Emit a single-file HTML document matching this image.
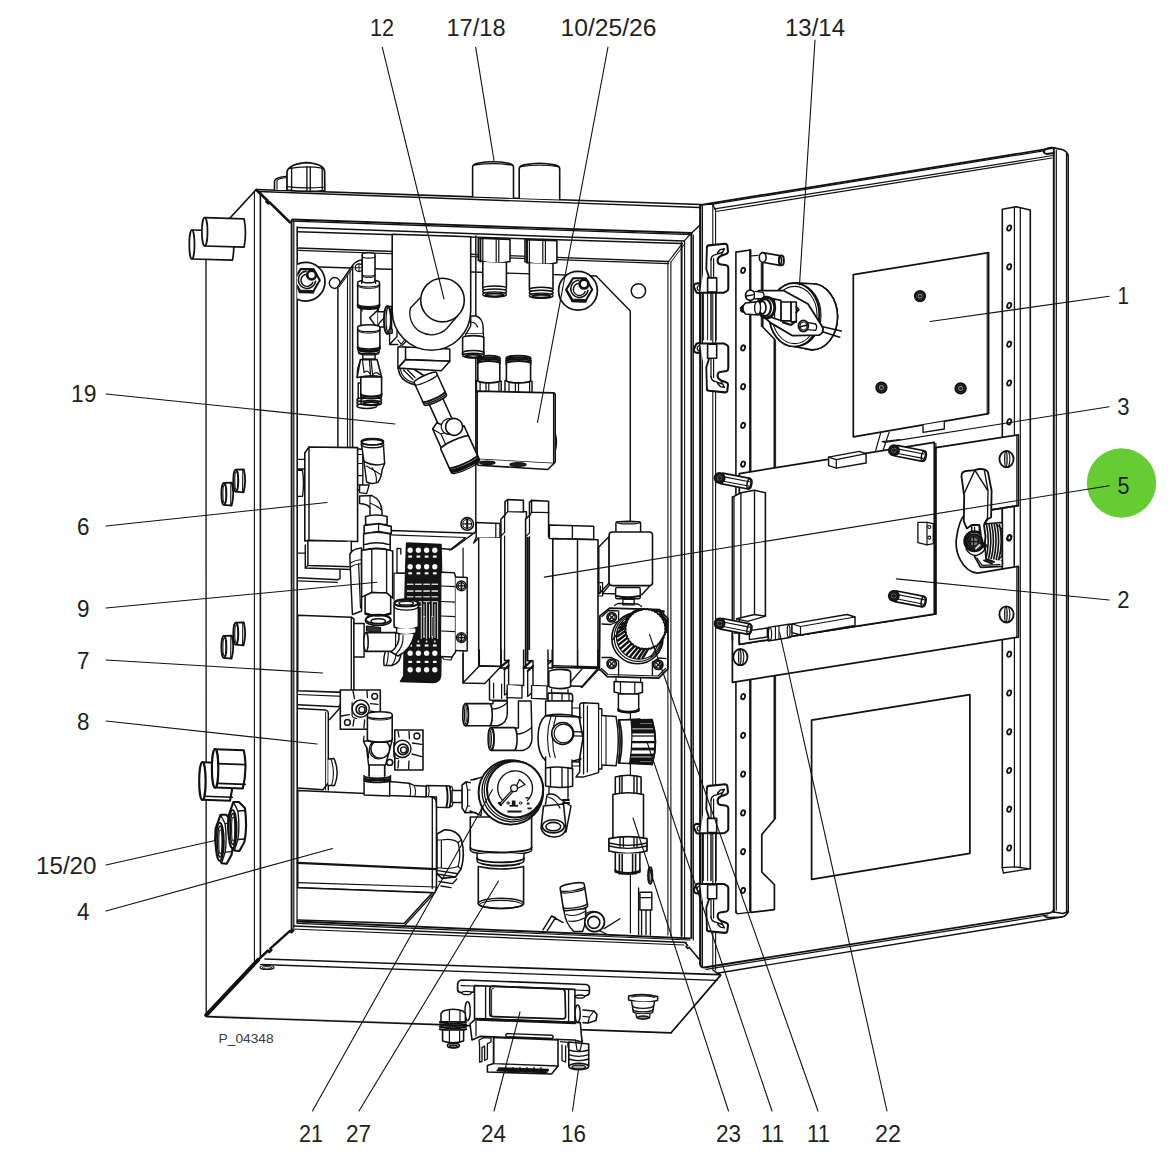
<!DOCTYPE html>
<html><head><meta charset="utf-8"><title>P_04348</title>
<style>
html,body{margin:0;padding:0;background:#fff;}
body{width:1174px;height:1174px;overflow:hidden;font-family:"Liberation Sans",sans-serif;}
svg{display:block;position:absolute;left:0;top:0;}
svg text{font-family:"Liberation Sans",sans-serif;}
</style></head><body>
<svg width="1174" height="1174" viewBox="0 0 1174 1174" fill="none" stroke="#111" stroke-width="1.55" stroke-linecap="round" stroke-linejoin="round">
<path d="M256.3 189.5L206 244L206.2 1015.2L671.1 1032.8L720.5 975.4L701 204.5Z" stroke-width="0.12" fill="#fff"/>
<path d="M256.3 189.5L206 244" stroke-width="1.71"/>
<path d="M206 244L206.2 1015.2" stroke-width="1.28"/>
<path d="M254.4 191L254.4 961" stroke-width="1.1"/>
<path d="M260.4 192L260.4 958" stroke-width="1.59"/>
<path d="M206.2 1015.2L258.1 959.9" stroke-width="3.9"/>
<path d="M258.1 959.9L268 950.5l1.2 1.6l2.2-2L270.2 948.6L290 930.8l1.5 1.5l1.8-1.8" stroke-width="2.44"/>
<path d="M257 190.5L267.5 200.5l-1 1.2l1.8 1.6l1-1.2L290 222.4" stroke-width="2.68"/>
<path d="M256.3 189.5L701 204.5" stroke-width="1.71"/>
<path d="M259 191.6L700 207.6" stroke-width="1.46"/>
<path d="M292.4 219.5L691.6 233" stroke-width="1.83"/>
<path d="M292.6 221.2L690.5 234.6" stroke-width="1.34"/>
<path d="M297.5 227.5L684 241.1" stroke-width="1.46"/>
<path d="M297.5 231.8L682.2 243.6" stroke-width="1.46"/>
<path d="M298.4 248L668.6 261.5" stroke-width="1.46"/>
<path d="M298.4 250.4L668.6 263.6" stroke-width="1.1"/>
<path d="M291.6 220L291.6 930" stroke-width="1.83"/>
<path d="M293.8 221L293.8 928" stroke-width="1.22"/>
<path d="M297.2 227L297.2 923" stroke-width="1.59"/>
<path d="M691.4 233L691.4 938" stroke-width="1.95"/>
<path d="M693.3 235L693.3 940" stroke-width="1.22"/>
<path d="M681.6 243L681.6 936" stroke-width="1.95"/>
<path d="M684.6 241L684.6 938" stroke-width="1.1"/>
<path d="M667.9 262L667.9 935" stroke-width="1.1"/>
<path d="M670.9 262L670.9 936" stroke-width="1.1"/>
<path d="M691.6 233L700 225" stroke-width="1.46"/>
<path d="M684 241.1L691.6 233" stroke-width="1.22"/>
<path d="M668.6 261.5L682.2 243.6" stroke-width="1.22"/>
<path d="M671 262L684.6 244" stroke-width="0.98"/>
<path d="M297.3 921.5L690 938.3" stroke-width="1.83"/>
<path d="M297.3 923.3L690 940" stroke-width="1.22"/>
<path d="M294 926L686 942.5" stroke-width="1.46"/>
<path d="M292 929L684 945" stroke-width="1.22"/>
<path d="M685.6 943l2 2.5l-1.5 1.2l1.5 1.8l1.5-1.2L699 959" stroke-width="1.59"/>
<path d="M265 959L718.8 974.6" stroke-width="1.59"/>
<path d="M260.7 964.5L717.1 980.3" stroke-width="1.34"/>
<path d="M207 1016.6L671.1 1032.8" stroke-width="1.71"/>
<path d="M720.5 975.4L671.1 1032.8" stroke-width="1.71"/>
<path d="M717 970.5L720.5 975.4" stroke-width="1.71"/>
<ellipse cx="267" cy="967.5" rx="7" ry="2" stroke-width="1.22"/>
<ellipse cx="267" cy="967.8" rx="5" ry="1.2" stroke-width="0.98"/>
<path d="M191.9 230L232.5 231.2Q235.2 245.1 232.5 260.2L191.9 259" stroke-width="1.71" fill="#fff"/>
<ellipse cx="191.9" cy="244.5" rx="2.6" ry="14.5" stroke-width="1.71" fill="#fff"/>
<path d="M204.7 217.6L244.1 218.8Q246.8 232.4 244.1 247.2L204.7 246" stroke-width="1.71" fill="#fff"/>
<ellipse cx="204.7" cy="231.8" rx="2.8" ry="14.2" stroke-width="1.71" fill="#fff"/>
<path d="M223.9 482.90000000000003L231.9 482.6Q234.70000000000002 494.1 231.60000000000002 505.6L223.9 504.8" stroke-width="1.83" fill="#fff"/>
<ellipse cx="223.9" cy="493.9" rx="2.5" ry="11" stroke-width="1.83" fill="#fff"/>
<ellipse cx="224.5" cy="493.9" rx="1.6" ry="9" stroke-width="1.1"/>
<path d="M230.9 482.8L230.7 505.4" stroke-width="1.1"/>
<path d="M235.79999999999998 469.7L243.79999999999998 469.4Q246.6 480.9 243.5 492.4L235.79999999999998 491.59999999999997" stroke-width="1.83" fill="#fff"/>
<ellipse cx="235.8" cy="480.7" rx="2.5" ry="11" stroke-width="1.83" fill="#fff"/>
<ellipse cx="236.4" cy="480.7" rx="1.6" ry="9" stroke-width="1.1"/>
<path d="M242.8 469.6L242.6 492.2" stroke-width="1.1"/>
<path d="M223.9 635.9L231.9 635.6Q234.70000000000002 647.1 231.60000000000002 658.6L223.9 657.8000000000001" stroke-width="1.83" fill="#fff"/>
<ellipse cx="223.9" cy="646.9" rx="2.5" ry="11" stroke-width="1.83" fill="#fff"/>
<ellipse cx="224.5" cy="646.9" rx="1.6" ry="9" stroke-width="1.1"/>
<path d="M230.9 635.8L230.7 658.4" stroke-width="1.1"/>
<path d="M235.79999999999998 622.6999999999999L243.79999999999998 622.4Q246.6 633.9 243.5 645.4L235.79999999999998 644.6" stroke-width="1.83" fill="#fff"/>
<ellipse cx="235.8" cy="633.7" rx="2.5" ry="11" stroke-width="1.83" fill="#fff"/>
<ellipse cx="236.4" cy="633.7" rx="1.6" ry="9" stroke-width="1.1"/>
<path d="M242.8 622.6L242.6 645.2" stroke-width="1.1"/>
<path d="M202.39999999999998 762.3L231 763.3Q234.8 781.5 230 800.7L202.39999999999998 799.7" stroke-width="2.13" fill="#fff"/>
<ellipse cx="202.4" cy="781" rx="3.2" ry="18.9" stroke-width="2.13" fill="#fff"/>
<path d="M205 796.2L232.4 797.2" stroke-width="1.59"/>
<path d="M204.6 764.3Q206.79999999999998 781.5 204.6 798.2" stroke-width="1.22"/>
<path d="M215.1 749.2L243.8 750.2Q247.60000000000002 768.85 242.8 788.5L215.1 787.5" stroke-width="2.13" fill="#fff"/>
<ellipse cx="215.1" cy="768.4" rx="3.2" ry="19.3" stroke-width="2.13" fill="#fff"/>
<path d="M217.7 763.6L245.2 764.6" stroke-width="1.59"/>
<path d="M217.7 783.4L245.2 784.4" stroke-width="1.59"/>
<path d="M217.3 751.2Q219.5 768.85 217.3 786.0" stroke-width="1.22"/>
<path d="M220.6 814.7L226.1 814.7L232.1 820.7Q234.7 839.7 231.6 854.7L226.6 863.7L221.6 863.2Q213.6 850.7 215.6 828.7Z" stroke-width="2.13" fill="#fff"/>
<ellipse cx="219.7" cy="841.7" rx="4" ry="19" stroke-width="2.13" fill="#fff"/>
<ellipse cx="220.1" cy="841.7" rx="2.6" ry="15.5" stroke-width="1.34"/>
<ellipse cx="220.4" cy="841.7" rx="1.6" ry="12" stroke-width="1.1"/>
<path d="M220.6 814.7L225.1 823.7Q227.1 839.7 225.1 852.2L221.6 863.2" stroke-width="1.34"/>
<path d="M225.1 823.7L232.7 823.2" stroke-width="1.34"/>
<path d="M225.1 852.2L232.1 851.7" stroke-width="1.34"/>
<path d="M233.4 802L238.9 802L244.9 808Q247.5 827 244.4 842L239.4 851L234.4 850.5Q226.4 838 228.4 816Z" stroke-width="2.13" fill="#fff"/>
<ellipse cx="232.5" cy="829" rx="4" ry="19" stroke-width="2.13" fill="#fff"/>
<ellipse cx="232.9" cy="829" rx="2.6" ry="15.5" stroke-width="1.34"/>
<ellipse cx="233.2" cy="829" rx="1.6" ry="12" stroke-width="1.1"/>
<path d="M233.4 802L237.9 811Q239.9 827 237.9 839.5L234.4 850.5" stroke-width="1.34"/>
<path d="M237.9 811L245.5 810.5" stroke-width="1.34"/>
<path d="M237.9 839.5L244.9 839" stroke-width="1.34"/>
<path d="M274.5 190L274.5 181Q275.5 177 287.5 176.2L287.5 190" stroke-width="1.59" fill="#fff"/>
<path d="M277 189.5L277 180.5Q279 178 287 177.8" stroke-width="1.1"/>
<path d="M287 190L287 172Q288 164.5 306 162.6Q323 163.5 324.6 171L324.8 190.5Q306 192.4 287 190Z" stroke-width="1.71" fill="#fff"/>
<path d="M288.6 168.6Q306 165.4 323.6 168.4" stroke-width="1.22"/>
<path d="M291.6 167.2L291.6 190.6" stroke-width="1.34"/>
<path d="M306.9 167.2L306.9 190.6" stroke-width="1.34"/>
<path d="M310.3 167.2L310.3 190.6" stroke-width="1.34"/>
<path d="M322.2 167.2L322.2 190.6" stroke-width="1.34"/>
<path d="M287 186.6Q306 189 324.8 187" stroke-width="1.1"/>
<path d="M628.6 996Q643 993 657.6 996.4L657.6 1000.6Q643 1004 628.6 1000Z" stroke-width="1.59" fill="#fff"/>
<path d="M631.4 997Q643 994.8 655 997.4" stroke-width="1.1"/>
<path d="M631.6 1001.6L633.4 1012.4Q643 1015.6 652.6 1012.6L654.4 1002" stroke-width="1.46" fill="#fff"/>
<path d="M633 1006A10 2.4 0 0 0 653 1006" stroke-width="1.34"/>
<path d="M633 1009.4A10 2.4 0 0 0 653 1009.4" stroke-width="1.34"/>
<path d="M636 1014L636.6 1017.6Q643 1020 649.6 1017.8L650 1014.2" stroke-width="1.34" fill="#fff"/>
<ellipse cx="643" cy="1017.6" rx="5.4" ry="1.5" stroke-width="1.46" fill="#888"/>
<path d="M462 980L586 984.5Q589.4 985 589.4 988L589.4 992.6Q589 995 586 995.6L575 996L474 992L461 992.6Q457.6 992 457.6 989.4L457.6 984Q458 980.4 462 980Z" stroke-width="1.71" fill="#fff"/>
<path d="M461 985.6L474 986L474 992M575 990L589 990.6" stroke-width="1.22"/>
<ellipse cx="466.6" cy="993" rx="4.6" ry="1.6" stroke-width="1.34" fill="#fff"/>
<ellipse cx="580" cy="996.6" rx="4.6" ry="1.6" stroke-width="1.34" fill="#fff"/>
<ellipse cx="467.6" cy="1011" rx="2.6" ry="9.6" stroke-width="1.46" fill="#fff"/>
<ellipse cx="577.6" cy="1013.6" rx="2.6" ry="8.6" stroke-width="1.46" fill="#fff"/>
<path d="M583 1010L594 1011L597 1014.6L596 1020.6L588 1023L583 1022.6" stroke-width="1.59" fill="#fff"/>
<path d="M588 1023L589.4 1017L594 1011M589.4 1017L583 1016.4" stroke-width="1.22"/>
<path d="M474.5 985.6L574.9 989.4L574.9 1022.4L474.5 1018.6Z" stroke-width="1.59" fill="#fff"/>
<path d="M485.6 986L485.6 1019" stroke-width="1.34"/>
<path d="M568.6 989.2L568.6 1022" stroke-width="1.34"/>
<path d="M493 986.2L562 988.9Q565 989.1 565 992.2L565.6 1016Q565.6 1019 562.6 1018.9L493 1016.6Q489.8 1016.5 489.8 1013.4L489.8 989.2Q489.8 986.1 493 986.2Z" stroke-width="1.71"/>
<path d="M491.6 1015.6L491.6 990Q491.6 987.9 494 988" stroke-width="0.98"/>
<path d="M470 1024L476 1018.6L580.3 1022.6L582 1042L574 1040L480 1036.4L472 1040Z" stroke-width="1.59" fill="#fff"/>
<path d="M476 1018.6L476 1036" stroke-width="1.22"/>
<path d="M477.6 1019.6L574.9 1023.2" stroke-width="2.2"/>
<path d="M507 1033.6L552 1035.2Q554.4 1036.6 552 1038.4L507 1036.8Q504.6 1035.2 507 1033.6Z" stroke-width="1.46" fill="#fff"/>
<path d="M479 1040L484 1037.6L491 1038L491 1042L487.4 1043.6L487.4 1059L484.6 1060.5L484.6 1046L482 1047.6L482 1061.5L479.6 1062L479.6 1046Z" stroke-width="1.34" fill="#fff"/>
<path d="M560.4 1041.6L568 1042.4L568 1047M562 1045L562 1060.6L565.6 1062L565.6 1046" stroke-width="1.34"/>
<path d="M493.6 1037.5L558 1040L558 1066L551.6 1074L487.4 1072L487.4 1065.6L493.6 1063.6Z" stroke-width="1.59" fill="#fff"/>
<path d="M493.6 1063.6L558 1066M493.6 1037.5L493.6 1063.6" stroke-width="1.34"/>
<path d="M499 1068.4L548 1070M497.6 1070.4L546.6 1072" stroke-width="2.32"/>
<path d="M506 1067.4L505 1072.6" stroke-width="1.22"/>
<path d="M513 1067.4L512 1072.6" stroke-width="1.22"/>
<path d="M520 1067.4L519 1072.6" stroke-width="1.22"/>
<path d="M527 1067.4L526 1072.6" stroke-width="1.22"/>
<path d="M534 1067.4L533 1072.6" stroke-width="1.22"/>
<path d="M541 1067.4L540 1072.6" stroke-width="1.22"/>
<path d="M443 1011Q453 1007.6 463 1011L465.4 1013.6L465.4 1022L441 1021.6L441 1013.6Z" stroke-width="1.59" fill="#fff"/>
<path d="M449.4 1009.6L449.4 1021.6" stroke-width="1.22"/>
<path d="M460 1010L460 1021.8" stroke-width="1.22"/>
<path d="M440 1022Q453 1025 466 1022" stroke-width="2.2"/>
<path d="M440 1024.4Q453 1027.4 466 1024.4" stroke-width="2.2"/>
<path d="M440 1026.8Q453 1029.8 466 1026.8" stroke-width="2.2"/>
<path d="M440 1029.2Q453 1032.2 466 1029.2" stroke-width="2.2"/>
<path d="M442.6 1030L442.6 1041Q453 1044.6 463.6 1041L463.6 1030Z" stroke-width="1.59" fill="#fff"/>
<path d="M449.4 1031L449.4 1042.6" stroke-width="1.22"/>
<path d="M459.6 1031L459.6 1042.6" stroke-width="1.22"/>
<ellipse cx="453.4" cy="1045.6" rx="6" ry="2.4" stroke-width="1.59" fill="#fff"/>
<ellipse cx="453.4" cy="1046.2" rx="3.8" ry="1.3" stroke-width="1.46" fill="#999"/>
<path d="M568.8 1042L568.8 1066Q578.6 1070 588.7 1066L588.7 1044Z" stroke-width="1.59" fill="#fff"/>
<path d="M568.8 1050Q578.6 1053.4 588.7 1050" stroke-width="1.34"/>
<path d="M568.8 1054.6Q578.6 1058.0 588.7 1054.6" stroke-width="1.34"/>
<path d="M568.8 1059Q578.6 1062.4 588.7 1059" stroke-width="1.34"/>
<ellipse cx="578.8" cy="1066.6" rx="9.8" ry="3.2" stroke-width="1.59" fill="#fff"/>
<ellipse cx="578.8" cy="1067" rx="6.8" ry="1.9" stroke-width="1.34" fill="#aaa"/>
<path d="M575.4 1040L577 1050L580 1050.6L582.6 1040" stroke-width="1.22"/>
<path d="M298 266.3L596.2 276L630.3 311L630.3 523" stroke-width="1.46"/>
<clipPath id="cpL"><rect x="297.2" y="200" width="400" height="800"/></clipPath>
<g clip-path="url(#cpL)">
<ellipse cx="305.6" cy="281.7" rx="19.4" ry="19.4" stroke-width="1.71" fill="#fff"/>
<path d="M293.7 280.8L300.6 269.1L313.4 269.1L319.8 280.3L312.9 292.1L299.9 291.8Z" stroke-width="2.07" fill="#fff"/>
<path d="M294.8 281.3L300.2 290.1L312.2 290.5" stroke-width="1.22"/>
<path d="M299.9 291.8L312.9 292.1" stroke-width="2.93"/>
<path d="M306.1 271.1A8.7 8.7 0 1 0 315.6 281.2" stroke-width="1.59"/>
<path d="M305.8 274.3A6.1 6.1 0 1 0 312.8 282.3" stroke-width="1.34"/>
<ellipse cx="311.6" cy="275" rx="4.4" ry="4.4" stroke-width="2.68" fill="#fff"/>
</g>
<ellipse cx="334.7" cy="283" rx="5.4" ry="5.4" stroke-width="1.46"/>
<ellipse cx="578" cy="290.8" rx="19.4" ry="19.4" stroke-width="1.71" fill="#fff"/>
<path d="M566.1 289.9L573 278.2L585.8 278.2L592.2 289.4L585.3 301.2L572.3 300.9Z" stroke-width="2.07" fill="#fff"/>
<path d="M567.2 290.4L572.6 299.2L584.6 299.6" stroke-width="1.22"/>
<path d="M572.3 300.9L585.3 301.2" stroke-width="2.93"/>
<path d="M578.5 280.2A8.7 8.7 0 1 0 588 290.3" stroke-width="1.59"/>
<path d="M578.2 283.4A6.1 6.1 0 1 0 585.2 291.4" stroke-width="1.34"/>
<ellipse cx="584" cy="284.1" rx="4.4" ry="4.4" stroke-width="2.68" fill="#fff"/>
<ellipse cx="638.4" cy="290.9" rx="7.2" ry="7.2" stroke-width="1.46"/>
<path d="M337.9 447.3L337.9 286.5L352.6 265.5Q356 260.5 362 260L362 270" stroke-width="1.46" fill="#fff"/>
<path d="M339.2 287L353.5 267" stroke-width="0.98"/>
<path d="M347.5 275L347.5 447.4" stroke-width="1.1"/>
<path d="M350 271L350 447.4" stroke-width="1.1"/>
<path d="M352.6 266L352.6 447.5" stroke-width="1.46"/>
<ellipse cx="359" cy="267.7" rx="3.8" ry="3.8" stroke-width="1.34" fill="#fff"/>
<path d="M355.4 267.7L362.6 267.7" stroke-width="0.98"/>
<path d="M359 264L359 271.4" stroke-width="0.98"/>
<path d="M475.8 236L475.8 531.5" stroke-width="1.46"/>
<path d="M478.3 238.2L510 239.39999999999998L510 261.5Q494.15 265.0 478.3 260.5Z" stroke-width="1.59" fill="#fff"/>
<path d="M480.4 238.7L480.4 261.5" stroke-width="1.95"/>
<path d="M482.8 238.7L482.8 262.8" stroke-width="1.22"/>
<path d="M496.2 238.7L496.2 262.8" stroke-width="1.22"/>
<path d="M498.8 238.7L498.8 262.8" stroke-width="1.22"/>
<path d="M482.8 262.0L482.8 287.3A11.799999999999983 3 0 0 0 506.4 287.3L506.4 263.0" stroke-width="1.59" fill="#fff"/>
<ellipse cx="494.6" cy="288.5" rx="12" ry="2.6" stroke-width="1.46" fill="#fff"/>
<ellipse cx="494.6" cy="291.5" rx="12" ry="2.6" stroke-width="1.46" fill="#fff"/>
<ellipse cx="494.6" cy="294.5" rx="12" ry="2.6" stroke-width="1.22" fill="#fff"/>
<ellipse cx="494.6" cy="294.9" rx="9.2" ry="1.5" stroke-width="1.95"/>
<path d="M525 239.6L556.9 240.79999999999998L556.9 262.8Q540.95 266.3 525 261.8Z" stroke-width="1.59" fill="#fff"/>
<path d="M527 240.1L527 262.8" stroke-width="1.95"/>
<path d="M529.4 240.1L529.4 264.1" stroke-width="1.22"/>
<path d="M542.8 240.1L542.8 264.1" stroke-width="1.22"/>
<path d="M545.4 240.1L545.4 264.1" stroke-width="1.22"/>
<path d="M529.4 263.3L529.4 288.6A11.800000000000011 3 0 0 0 553 288.6L553 264.3" stroke-width="1.59" fill="#fff"/>
<ellipse cx="541.2" cy="289.8" rx="12" ry="2.6" stroke-width="1.46" fill="#fff"/>
<ellipse cx="541.2" cy="292.8" rx="12" ry="2.6" stroke-width="1.46" fill="#fff"/>
<ellipse cx="541.2" cy="295.8" rx="12" ry="2.6" stroke-width="1.22" fill="#fff"/>
<ellipse cx="541.2" cy="296.2" rx="9.2" ry="1.5" stroke-width="1.95"/>
<path d="M472.6 196.5L472.6 167.2Q472.6 164.2 477.6 163.2Q493.05 160.3 508.5 163.2Q513.5 164.2 513.5 167.2L513.5 198" stroke-width="1.59" fill="#fff"/>
<path d="M474.1 165.0Q493.05 162.4 512.0 165.0" stroke-width="1.34"/>
<path d="M519.2 198.2L519.2 168.9Q519.2 165.9 524.2 164.9Q539.45 161.6 554.7 164.9Q559.7 165.9 559.7 168.9L559.7 199.6" stroke-width="1.59" fill="#fff"/>
<path d="M520.7 166.70000000000002Q539.45 163.7 558.2 166.70000000000002" stroke-width="1.34"/>
<path d="M358.2 383L358.2 402A10 2.6 0 0 0 376 404L376 383Z" stroke-width="1.46" fill="#fff"/>
<ellipse cx="366.8" cy="400" rx="10" ry="2.4" stroke-width="1.46" fill="#fff"/>
<ellipse cx="366.8" cy="403" rx="10" ry="2.4" stroke-width="1.46" fill="#fff"/>
<ellipse cx="366.8" cy="406" rx="10" ry="2.4" stroke-width="1.46" fill="#fff"/>
<ellipse cx="371.2" cy="397" rx="10.4" ry="2.5" stroke-width="1.46" fill="#fff"/>
<ellipse cx="371.2" cy="400" rx="10.4" ry="2.5" stroke-width="1.46" fill="#fff"/>
<ellipse cx="371.2" cy="403" rx="10.4" ry="2.5" stroke-width="1.46" fill="#fff"/>
<ellipse cx="371.2" cy="403.4" rx="7.8" ry="1.5" stroke-width="1.95"/>
<path d="M360.8 377L360.8 396A10.4 2.6 0 0 0 381.6 396L381.6 377Z" stroke-width="1.59" fill="#fff"/>
<path d="M360.8 394A10.4 2.6 0 0 0 381.6 394" stroke-width="2.2"/>
<path d="M360.4 359.6L377.1 359.6L381.6 377Q371 374.5 357 377.5Z" stroke-width="1.59" fill="#fff"/>
<path d="M362.5 360L364 372.5Q367.5 369 370.5 374.5L369.5 360.5" stroke-width="1.22"/>
<path d="M371 360L372.6 374.8Q376 370.5 379.5 374.5" stroke-width="1.22"/>
<path d="M360.4 361Q356.5 368 357.5 376" stroke-width="1.22"/>
<rect x="362.8" y="353.5" width="12.3" height="5.6" stroke-width="1.46" fill="#fff"/>
<path d="M360.9 304L360.9 330L378.1 330L378.1 304Z" stroke-width="1.46" fill="#fff"/>
<path d="M378.1 311.8L384.4 311.8L384.4 327.1L378.1 327.1" stroke-width="1.46" fill="#fff"/>
<path d="M378.6 309.4L369.6 317.8L377 327.6Q379.5 321.5 384 318" stroke-width="1.46"/>
<path d="M357.7 327.1A11.1 2.4 0 0 1 379.9 327.1L379.9 349A11.1 2.4 0 0 1 357.7 349Z" stroke-width="1.59" fill="#fff"/>
<path d="M357.7 329.3A11.1 2.4 0 0 0 379.9 329.3" stroke-width="1.22"/>
<path d="M357.7 330.7A11.1 2.4 0 0 0 379.9 330.7" stroke-width="0.98"/>
<path d="M357.7 346.4A11.1 2.4 0 0 0 379.9 346.4" stroke-width="1.22"/>
<path d="M357.7 347.8A11.1 2.4 0 0 0 379.9 347.8" stroke-width="1.95"/>
<path d="M358.2 349.6A10.6 2.4 0 0 0 379.4 349.6" stroke-width="1.34"/>
<path d="M358.2 351.6A10.6 2.4 0 0 0 379.4 351.6" stroke-width="1.34"/>
<path d="M358.4 351.6L359 353.8Q368.8 356.2 378.6 353.8L379.2 351.6" stroke-width="1.22"/>
<ellipse cx="387.4" cy="320" rx="3.4" ry="13.8" stroke-width="1.71" fill="#fff"/>
<ellipse cx="388.6" cy="320" rx="2.6" ry="12.8" stroke-width="1.22"/>
<path d="M387.4 306.2L391.6 306.6L391.6 333L387.4 333.8" stroke-width="1.46"/>
<path d="M389.5 329L392.4 329L392.4 333.4L388.4 333.6Z" stroke-width="0.98" fill="#555"/>
<path d="M357.7 282.4A10.9 2.4 0 0 1 379.5 282.4L379.5 306.7A10.9 2.4 0 0 1 357.7 306.7Z" stroke-width="1.59" fill="#fff"/>
<path d="M357.7 284.6A10.9 2.4 0 0 0 379.5 284.6" stroke-width="1.22"/>
<path d="M357.7 286A10.9 2.4 0 0 0 379.5 286" stroke-width="0.98"/>
<path d="M357.7 304.1A10.9 2.4 0 0 0 379.5 304.1" stroke-width="1.22"/>
<path d="M357.7 305.5A10.9 2.4 0 0 0 379.5 305.5" stroke-width="1.95"/>
<path d="M360.9 306.5Q362 309.5 362.2 311" stroke-width="1.22"/>
<path d="M362.2 254.6A6.4 1.8 0 0 1 375 254.6L375 281A6.4 1.8 0 0 1 362.2 281Z" stroke-width="1.59" fill="#fff"/>
<path d="M362.2 256.6A6.4 1.6 0 0 0 375 256.6" stroke-width="1.22"/>
<path d="M362.2 274.6A6.4 1.6 0 0 0 375 274.6" stroke-width="1.22"/>
<path d="M362.2 276A6.4 1.6 0 0 0 375 276" stroke-width="0.98"/>
<path d="M361.6 281L361.6 283.5M375.6 281L375.6 283.5" stroke-width="1.22"/>
<path d="M476.4 380.5L476.4 392L501.20000000000005 393L501.20000000000005 381.2Z" stroke-width="1.46" fill="#fff"/>
<path d="M480.1 381L480.1 392.5" stroke-width="1.22"/>
<path d="M486 381L486 392.5" stroke-width="1.22"/>
<path d="M488.8 381L488.8 392.5" stroke-width="1.22"/>
<path d="M498.9 381L498.9 392.5" stroke-width="1.22"/>
<path d="M477.8 360A11 2.4 0 0 1 499.8 360L499.8 380.6A11 2.4 0 0 1 477.8 380.6Z" stroke-width="1.59" fill="#fff"/>
<path d="M477.8 380.6A11 2 0 0 0 499.8 380.6" stroke-width="1.22"/>
<path d="M477.6 358.2A11.2 2.6 0 0 1 500 358.2" stroke-width="1.83"/>
<path d="M477.6 360A11.2 2.6 0 0 1 500 360" stroke-width="1.83"/>
<path d="M477.6 361.8A11.2 2.6 0 0 1 500 361.8" stroke-width="1.83"/>
<path d="M477.6 363.6A11.2 2.6 0 0 1 500 363.6" stroke-width="1.83"/>
<path d="M505.0 380.5L505.0 392L532.0 393L532.0 381.2Z" stroke-width="1.46" fill="#fff"/>
<path d="M509 381L509 392.5" stroke-width="1.22"/>
<path d="M515.4 381L515.4 392.5" stroke-width="1.22"/>
<path d="M518.5 381L518.5 392.5" stroke-width="1.22"/>
<path d="M529.6 381L529.6 392.5" stroke-width="1.22"/>
<path d="M506.4 360A12.1 2.4 0 0 1 530.6 360L530.6 380.6A12.1 2.4 0 0 1 506.4 380.6Z" stroke-width="1.59" fill="#fff"/>
<path d="M506.4 380.6A12.1 2 0 0 0 530.6 380.6" stroke-width="1.22"/>
<path d="M506.2 358.2A12.3 2.6 0 0 1 530.8 358.2" stroke-width="1.83"/>
<path d="M506.2 360A12.3 2.6 0 0 1 530.8 360" stroke-width="1.83"/>
<path d="M506.2 361.8A12.3 2.6 0 0 1 530.8 361.8" stroke-width="1.83"/>
<path d="M506.2 363.6A12.3 2.6 0 0 1 530.8 363.6" stroke-width="1.83"/>
<path d="M477.1 391.1L553.8 392.8L553.8 463.5L477.1 459.3Z" stroke-width="1.71" fill="#fff"/>
<path d="M477.1 459.3L478 465.2L547.8 469.5L553.8 463.5" stroke-width="1.59" fill="#fff"/>
<path d="M553.8 392.8L555.4 394L555.4 462L553.8 463.5" stroke-width="1.22"/>
<path d="M555.4 434Q557.6 442 555.4 450.6" stroke-width="1.34"/>
<ellipse cx="487.3" cy="462.8" rx="7.6" ry="1.6" stroke-width="1.46" fill="#222"/>
<ellipse cx="518" cy="464.5" rx="8" ry="1.8" stroke-width="1.46" fill="#222"/>
<path d="M470.7 316L476 316Q483 318 483.2 328L483.2 334L466 334L470.7 326Z" stroke-width="1.46" fill="#fff"/>
<path d="M470.7 322Q476 322.5 477.6 327" stroke-width="1.22"/>
<path d="M466 334L464.6 338L484 338L483.2 334" stroke-width="1.22" fill="#fff"/>
<path d="M462.6 338A10.6 2.4 0 0 1 483.8 338L483.8 354.5A10.6 2.4 0 0 1 462.6 354.5Z" stroke-width="1.59" fill="#fff"/>
<path d="M462.6 351.9A10.6 2.4 0 0 0 483.8 351.9" stroke-width="1.22"/>
<path d="M462.6 353.3A10.6 2.4 0 0 0 483.8 353.3" stroke-width="1.95"/>
<ellipse cx="473.2" cy="353" rx="10.6" ry="2.4" stroke-width="1.46" fill="#fff"/>
<ellipse cx="473.2" cy="355.6" rx="10.6" ry="2.4" stroke-width="1.46" fill="#fff"/>
<ellipse cx="473.2" cy="356" rx="8" ry="1.4" stroke-width="1.95"/>
<path d="M389.6 333L389.6 344.5L397.9 344.5M389.6 344.5L397 336.5L397 331" stroke-width="1.34"/>
<path d="M397.9 340L402 345.5L406 341.5M399.5 346.5L404.5 340" stroke-width="1.22"/>
<path d="M398.4 367Q398.5 381 414.5 384.6L426 377L412 368Z" stroke-width="1.59" fill="#fff"/>
<path d="M400.5 369.5Q402 379.5 413.5 382.5M403.5 370L413 379.5M407.5 370L415 377.5" stroke-width="1.22"/>
<path d="M397.9 347L397.9 368.1L405.6 359.6L405.6 347Z" stroke-width="1.46" fill="#fff"/>
<path d="M405.6 347L405.6 359.6L449.8 361.3L449.8 349Z" stroke-width="1.46" fill="#fff"/>
<path d="M397.9 368.1L405.6 359.6L449.8 361.3L441.3 370.7Z" stroke-width="1.59" fill="#fff"/>
<path d="M392.2 234.3L392.2 311A39.2 39.2 0 0 0 470.7 311L470.7 236.8Z" stroke-width="1.59" fill="#fff"/>
<path d="M420.5 297.5L410.4 308A21.7 21.7 0 0 0 446.5 328.8L457.5 316" stroke-width="1.34" fill="#fff"/>
<ellipse cx="442.5" cy="300.1" rx="21.8" ry="21.8" stroke-width="1.59" fill="#fff"/>
<g transform="translate(425.2 377.5) rotate(-24.4)">
<rect x="-7.4" y="24" width="14.8" height="26" stroke-width="1.59" fill="#fff"/>
<path d="M-12.2 0A12.2 2.2 0 0 1 12.2 0L12.2 24.7A12.2 2.2 0 0 1 -12.2 24.7Z" stroke-width="1.59" fill="#fff"/>
<path d="M-12.2 2.2A12.2 2.2 0 0 0 12.2 2.2" stroke-width="1.22"/>
<path d="M-12.2 21A12.2 2.2 0 0 0 12.2 21" stroke-width="1.95"/>
<path d="M-12.2 23A12.2 2.2 0 0 0 12.2 23" stroke-width="1.46"/>
<path d="M-14.5 50L-14.5 72L15.4 72L15.4 60L1 56L-8 46Z" stroke-width="1.59" fill="#fff"/>
<path d="M-9 58L15.4 60M-9 58L-9 72M-14.5 50L-9 58" stroke-width="1.22"/>
<ellipse cx="1.5" cy="54.5" rx="7.8" ry="7.8" stroke-width="1.22" fill="#fff"/>
<ellipse cx="5.9" cy="56.9" rx="8.5" ry="8.5" stroke-width="1.59" fill="#fff"/>
<path d="M-15.4 71.6A15.4 2.6 0 0 1 15.4 71.6L15.4 95.5A15.4 2.6 0 0 1 -15.4 95.5Z" stroke-width="1.59" fill="#fff"/>
<path d="M-15.4 92A15.4 2.6 0 0 0 15.4 92" stroke-width="1.83"/>
<path d="M-15.4 94.2A15.4 2.6 0 0 0 15.4 94.2" stroke-width="1.83"/>
<path d="M-15.4 96.4A15.4 2.6 0 0 0 15.4 96.4" stroke-width="1.83"/>
<path d="M-14.6 98.4A14.6 2.4 0 0 0 14.6 98.4" stroke-width="1.22"/>
<path d="M-15.4 95.5L-15.4 98.4M15.4 95.5L15.4 98.4" stroke-width="1.22"/>
</g>
<path d="M390.2 548L390.2 530.6L474 533.2L475.8 531.5" stroke-width="1.46"/>
<path d="M390.2 534.8L465.5 537.5L449.5 550.2" stroke-width="1.22"/>
<path d="M474 533.2L451.8 549.4L440.8 548.6" stroke-width="1.46"/>
<ellipse cx="467.2" cy="523.9" rx="6.3" ry="6.3" stroke-width="1.59" fill="#fff"/>
<ellipse cx="467.2" cy="523.9" rx="4.4" ry="4.4" stroke-width="1.1"/>
<path d="M467.2 519.5L467.2 528.3" stroke-width="2.07"/>
<path d="M463.4 523.9L471 523.9" stroke-width="1.1"/>
<path d="M304.8 453L309 447L357.6 447.6L357.6 541.5L309 540.4L304.8 541Z" stroke-width="1.59" fill="#fff"/>
<path d="M309 447L309 540.4" stroke-width="1.46"/>
<path d="M297.7 459.4L304.8 459.4M297.7 469L304.8 469M297.7 470.4L302.5 470.4Q304.5 483 302.5 496.4L297.7 496.4" stroke-width="1.34"/>
<path d="M305.3 545L305.3 568L351.3 569.6L351.3 541.5" stroke-width="1.46" fill="#fff"/>
<path d="M307.9 540.9L307.9 565.4L351.3 566.8" stroke-width="1.46"/>
<path d="M305.3 568L307.9 565.4" stroke-width="1.22"/>
<path d="M297.7 553.2L305.3 553.2" stroke-width="1.34"/>
<path d="M297.7 577.7L338 579.7L340 578.6L340 570" stroke-width="1.46"/>
<path d="M297.7 580.8L337.5 582.4" stroke-width="1.22"/>
<path d="M297.7 615.3L351.3 617.2L353.9 619L353.9 694.6L351.3 692.6L297.7 690.7Z" stroke-width="1.59" fill="#fff"/>
<path d="M351.3 617.2L351.3 692.6" stroke-width="1.34"/>
<path d="M297.7 694.5L350 696.6" stroke-width="1.22"/>
<path d="M297.7 704.8L338.5 706.7L352 692.5" stroke-width="1.46"/>
<path d="M297.7 708.6L325.8 710.1Q328.3 710.5 328.3 713.5L328.3 790" stroke-width="1.46" fill="#fff"/>
<path d="M325.6 712L325.6 790" stroke-width="0.98"/>
<path d="M329.6 719.5L341 706.8" stroke-width="1.46"/>
<path d="M357.7 449L362.8 449L362.8 490L357.7 490" stroke-width="1.34"/>
<path d="M357.7 454.5L362 454.5M357.7 463.5L362.4 463.5M357.7 475.6L362.8 475.6M357.7 485L362.8 485" stroke-width="1.22"/>
<path d="M361.4 443.5L364 461.5L366.6 482Q371 484.6 378 482.4Q382 476 382 470L384.6 463.6L383.4 443.5Z" stroke-width="1.46" fill="#fff"/>
<path d="M364 461.5Q374 467 384.6 463.6" stroke-width="1.46"/>
<path d="M366.4 466Q374.6 470.6 381.6 475M372 467.6Q377 473 376.4 482.6" stroke-width="1.1"/>
<ellipse cx="372.4" cy="441.8" rx="11.2" ry="3.2" stroke-width="1.71" fill="#fff"/>
<ellipse cx="372.4" cy="442.2" rx="10.6" ry="2.6" stroke-width="1.22"/>
<path d="M361.2 444.6A11.2 3.2 0 0 0 383.6 444.6" stroke-width="1.46"/>
<path d="M359.6 485L369.2 485L366.6 493.6L359.6 492.6Z" stroke-width="1.34" fill="#fff"/>
<path d="M359.6 496L372 495.6Q381.6 500 382 512L382 516L370 516L370 508Q368 504 359.6 503.6Z" stroke-width="1.46" fill="#fff"/>
<path d="M370 496.4L370 508M370 503Q377 505.6 381.6 510" stroke-width="1.1"/>
<path d="M349.8 556Q350 549 361.6 548L361.6 611L352.4 614.5Z" stroke-width="1.46" fill="#fff"/>
<path d="M350.5 563Q355 560 361.6 559.5M350.5 567Q355 564 361.6 563.5" stroke-width="1.22"/>
<path d="M358.6 563.5L360.5 608" stroke-width="1.22"/>
<path d="M365.6 516.5Q376 513.5 387.1 516.5L387.1 524.5L365.6 524.5Z" stroke-width="1.59" fill="#fff"/>
<path d="M364.1 525.5L378.6 523.6L391.2 526.4L391.2 533.7L378.6 531.6L364.1 533.7Z" stroke-width="1.59" fill="#fff"/>
<path d="M378.6 523.6L378.6 531.6" stroke-width="1.22"/>
<path d="M363.6 534L363.6 545Q376.5 540.5 390.1 545L390.1 534Q377 530.5 363.6 534Z" stroke-width="1.46" fill="#fff"/>
<path d="M363.6 545L363.6 550.6Q377 546 390.1 550.6L390.1 545" stroke-width="1.46" fill="#fff"/>
<path d="M361.6 550.6Q377 546.5 392.7 551L392.7 598.1L386.6 593L371.8 592.5L361.6 597.1Z" stroke-width="1.59" fill="#fff"/>
<path d="M371.8 548.8L371.8 592.5" stroke-width="1.34"/>
<path d="M386.6 549.4L386.6 593" stroke-width="1.34"/>
<path d="M365.1 595.6L365.1 614Q378 619 390.7 614L390.7 596.4L386.6 593L371.8 592.5Z" stroke-width="1.59" fill="#fff"/>
<ellipse cx="378.2" cy="620.4" rx="12.8" ry="5.1" stroke-width="1.59" fill="#fff"/>
<ellipse cx="378.2" cy="619.2" rx="12.4" ry="4.6" stroke-width="1.46"/>
<ellipse cx="378.2" cy="621.2" rx="7.2" ry="2.4" stroke-width="1.46"/>
<path d="M366 613.5Q378 618 390 613.5" stroke-width="2.2"/>
<path d="M366.5 626L380.5 627.5L380.5 632.5L366.5 631Z" stroke-width="1.22" fill="#333"/>
<path d="M353.9 623.6L364.1 623.6L364.1 656.9L353.9 656.9Z" stroke-width="1.46" fill="#fff"/>
<path d="M386 650L401 651Q401.5 663 392 665.5L384 665.5Q383 657 386 650Z" stroke-width="1.46" fill="#fff"/>
<path d="M388.5 651Q388 660 386.5 665M396 651.5Q396.5 659 392 665" stroke-width="1.1"/>
<path d="M366 632.6L398.4 632.6A2.2 9.4 0 0 1 398.4 651.4L366 651.4A2.2 9.4 0 0 1 366 632.6Z" stroke-width="1.59" fill="#fff"/>
<path d="M366 632.6A2.2 9.4 0 0 1 366 651.4" stroke-width="1.59"/>
<path d="M395.6 632.8L395.6 651.4" stroke-width="1.22"/>
<path d="M406.6 543L441 544.4Q442.6 600 440.6 676Q440 682 434 682.4L400.4 681.6L403.8 676Q404.4 600 406.6 543Z" stroke-width="1.46" fill="#141414"/>
<ellipse cx="410.2" cy="550.2" rx="2.7" ry="2.7" stroke-width="0.12" fill="#fff"/>
<ellipse cx="418.4" cy="550.2" rx="2.7" ry="2.7" stroke-width="0.12" fill="#fff"/>
<ellipse cx="426.6" cy="550.2" rx="2.7" ry="2.7" stroke-width="0.12" fill="#fff"/>
<ellipse cx="434.8" cy="550.2" rx="2.7" ry="2.7" stroke-width="0.12" fill="#fff"/>
<ellipse cx="410.2" cy="566.8" rx="2.7" ry="2.7" stroke-width="0.12" fill="#fff"/>
<ellipse cx="418.4" cy="566.8" rx="2.7" ry="2.7" stroke-width="0.12" fill="#fff"/>
<ellipse cx="426.6" cy="566.8" rx="2.7" ry="2.7" stroke-width="0.12" fill="#fff"/>
<ellipse cx="434.8" cy="566.8" rx="2.7" ry="2.7" stroke-width="0.12" fill="#fff"/>
<ellipse cx="410.2" cy="653.3" rx="2.7" ry="2.7" stroke-width="0.12" fill="#fff"/>
<ellipse cx="418.4" cy="653.3" rx="2.7" ry="2.7" stroke-width="0.12" fill="#fff"/>
<ellipse cx="426.6" cy="653.3" rx="2.7" ry="2.7" stroke-width="0.12" fill="#fff"/>
<ellipse cx="434.8" cy="653.3" rx="2.7" ry="2.7" stroke-width="0.12" fill="#fff"/>
<ellipse cx="410.2" cy="669.7" rx="2.7" ry="2.7" stroke-width="0.12" fill="#fff"/>
<ellipse cx="418.4" cy="669.7" rx="2.7" ry="2.7" stroke-width="0.12" fill="#fff"/>
<ellipse cx="426.6" cy="669.7" rx="2.7" ry="2.7" stroke-width="0.12" fill="#fff"/>
<ellipse cx="434.8" cy="669.7" rx="2.7" ry="2.7" stroke-width="0.12" fill="#fff"/>
<rect x="408.3" y="555.5" width="3.8" height="2.2" stroke-width="0.12" fill="#fff"/>
<rect x="416.5" y="555.5" width="3.8" height="2.2" stroke-width="0.12" fill="#fff"/>
<rect x="424.7" y="555.5" width="3.8" height="2.2" stroke-width="0.12" fill="#fff"/>
<rect x="432.9" y="555.5" width="3.8" height="2.2" stroke-width="0.12" fill="#fff"/>
<rect x="408.3" y="572.2" width="3.8" height="2.2" stroke-width="0.12" fill="#fff"/>
<rect x="416.5" y="572.2" width="3.8" height="2.2" stroke-width="0.12" fill="#fff"/>
<rect x="424.7" y="572.2" width="3.8" height="2.2" stroke-width="0.12" fill="#fff"/>
<rect x="432.9" y="572.2" width="3.8" height="2.2" stroke-width="0.12" fill="#fff"/>
<rect x="408.3" y="644.4" width="3.8" height="2.2" stroke-width="0.12" fill="#fff"/>
<rect x="416.5" y="644.4" width="3.8" height="2.2" stroke-width="0.12" fill="#fff"/>
<rect x="424.7" y="644.4" width="3.8" height="2.2" stroke-width="0.12" fill="#fff"/>
<rect x="432.9" y="644.4" width="3.8" height="2.2" stroke-width="0.12" fill="#fff"/>
<rect x="408.3" y="660.8" width="3.8" height="2.2" stroke-width="0.12" fill="#fff"/>
<rect x="416.5" y="660.8" width="3.8" height="2.2" stroke-width="0.12" fill="#fff"/>
<rect x="424.7" y="660.8" width="3.8" height="2.2" stroke-width="0.12" fill="#fff"/>
<rect x="432.9" y="660.8" width="3.8" height="2.2" stroke-width="0.12" fill="#fff"/>
<rect x="406.9" y="583.6" width="6.6" height="1.3" stroke-width="0.12" fill="#fff"/>
<rect x="415.1" y="583.6" width="6.6" height="1.3" stroke-width="0.12" fill="#fff"/>
<rect x="423.3" y="583.6" width="6.6" height="1.3" stroke-width="0.12" fill="#fff"/>
<rect x="431.5" y="583.6" width="6.6" height="1.3" stroke-width="0.12" fill="#fff"/>
<rect x="406.9" y="590.3" width="6.6" height="1.5" stroke-width="0.12" fill="#fff"/>
<rect x="415.1" y="590.3" width="6.6" height="1.5" stroke-width="0.12" fill="#fff"/>
<rect x="423.3" y="590.3" width="6.6" height="1.5" stroke-width="0.12" fill="#fff"/>
<rect x="431.5" y="590.3" width="6.6" height="1.5" stroke-width="0.12" fill="#fff"/>
<rect x="406.9" y="596.2" width="6.6" height="1.2" stroke-width="0.12" fill="#fff"/>
<rect x="415.1" y="596.2" width="6.6" height="1.2" stroke-width="0.12" fill="#fff"/>
<rect x="423.3" y="596.2" width="6.6" height="1.2" stroke-width="0.12" fill="#fff"/>
<rect x="431.5" y="596.2" width="6.6" height="1.2" stroke-width="0.12" fill="#fff"/>
<rect x="406.9" y="601.2" width="6.6" height="1" stroke-width="0.12" fill="#fff"/>
<rect x="415.1" y="601.2" width="6.6" height="1" stroke-width="0.12" fill="#fff"/>
<rect x="423.3" y="601.2" width="6.6" height="1" stroke-width="0.12" fill="#fff"/>
<rect x="431.5" y="601.2" width="6.6" height="1" stroke-width="0.12" fill="#fff"/>
<rect x="420.8" y="602" width="0.9" height="37" stroke-width="0.12" fill="#fff"/>
<rect x="423.5" y="604" width="0.9" height="34" stroke-width="0.12" fill="#fff"/>
<rect x="426.2" y="602" width="0.9" height="37" stroke-width="0.12" fill="#fff"/>
<rect x="429" y="604" width="0.9" height="34" stroke-width="0.12" fill="#fff"/>
<rect x="431.8" y="602" width="0.9" height="37" stroke-width="0.12" fill="#fff"/>
<rect x="434.5" y="604" width="0.9" height="34" stroke-width="0.12" fill="#fff"/>
<rect x="437.2" y="602" width="0.9" height="37" stroke-width="0.12" fill="#fff"/>
<rect x="406.9" y="606" width="6.6" height="1" stroke-width="0.12" fill="#fff"/>
<rect x="415.1" y="606" width="6.6" height="1" stroke-width="0.12" fill="#fff"/>
<rect x="423.3" y="616" width="1.8" height="21" stroke-width="0.12" fill="#fff"/>
<rect x="423.8" y="617" width="0.7" height="19" stroke-width="0.12" fill="#141414"/>
<rect x="431.5" y="616" width="1.8" height="21" stroke-width="0.12" fill="#fff"/>
<rect x="432" y="617" width="0.7" height="19" stroke-width="0.12" fill="#141414"/>
<ellipse cx="418.4" cy="641.5" rx="1" ry="1" stroke-width="0.12" fill="#fff"/>
<ellipse cx="426.6" cy="641.5" rx="1" ry="1" stroke-width="0.12" fill="#fff"/>
<ellipse cx="434.8" cy="641.5" rx="1" ry="1" stroke-width="0.12" fill="#fff"/>
<path d="M441.5 572.3L454.4 572.8L455.6 577L455.6 652L452 657L441 656.6" stroke-width="1.46" fill="#fff"/>
<path d="M441.5 586L455.6 586.6" stroke-width="1.22"/>
<path d="M441.5 601.5L455.6 602.1" stroke-width="1.22"/>
<path d="M441.5 616L455.6 616.6" stroke-width="1.22"/>
<path d="M441.5 631L455.6 631.6" stroke-width="1.22"/>
<path d="M455.6 577L467.2 577.6L467.2 651L455.6 650.6" stroke-width="1.46" fill="#fff"/>
<ellipse cx="461.4" cy="585.9" rx="4.8" ry="4.8" stroke-width="1.59" fill="#fff"/>
<ellipse cx="461.4" cy="585.9" rx="3.2" ry="3.2" stroke-width="1.1"/>
<path d="M461.4 581.9L461.4 589.9" stroke-width="1.71"/>
<path d="M457.6 585.9L465.2 585.9" stroke-width="1.22"/>
<ellipse cx="461.4" cy="637.6" rx="4.8" ry="4.8" stroke-width="1.59" fill="#fff"/>
<ellipse cx="461.4" cy="637.6" rx="3.2" ry="3.2" stroke-width="1.1"/>
<path d="M461.4 633.6L461.4 641.6" stroke-width="1.71"/>
<path d="M457.6 637.6L465.2 637.6" stroke-width="1.22"/>
<path d="M442 656.8L444 659.5L451 660L452 657.5" stroke-width="1.22"/>
<path d="M463.1 548L463.1 577.4" stroke-width="1.22"/>
<path d="M463.1 651L463.1 683" stroke-width="1.22"/>
<path d="M397 548.5L397 573L406 573.2M397.6 548.5L400.8 548.7L400.8 554" stroke-width="1.34"/>
<path d="M394 573L394 600M394 573L406 573.4" stroke-width="1.22"/>
<path d="M394.1 604L394.1 627Q406 632.5 418.4 627L418.4 604Z" stroke-width="1.59" fill="#fff"/>
<path d="M396.6 628.5L396.6 633Q406 636.5 416 633L416 628.5" stroke-width="1.34" fill="#fff"/>
<path d="M399 634.5Q400 645 391 652L398 656Q411 650 414.5 634" stroke-width="1.46" fill="#fff"/>
<path d="M403 635.5Q404 646 396 654" stroke-width="1.1"/>
<ellipse cx="406.2" cy="602.8" rx="12.1" ry="3.7" stroke-width="1.71" fill="#fff"/>
<ellipse cx="406.2" cy="603.4" rx="11.6" ry="3.2" stroke-width="1.34"/>
<ellipse cx="406.2" cy="603.2" rx="7.2" ry="1.9" stroke-width="1.46"/>
<path d="M394.1 606.6A12.1 3.6 0 0 0 418.3 606.6" stroke-width="1.34"/>
<path d="M476.2 522.6L500 523.4L500 537.9L476.2 537.9Z" stroke-width="1.46" fill="#fff"/>
<path d="M495.8 523.2L495.8 537.9" stroke-width="1.22"/>
<path d="M476.2 537.5L473.6 543L478.7 537.9L478.7 668L500.9 668L500.9 537.9" stroke-width="1.46" fill="#fff"/>
<path d="M500.9 668L500.9 519.2L505 514.9L505 501.6L507.7 499.6L523.4 500.2L523.4 511.5L526.4 511.8L526.4 668Z" stroke-width="1.59" fill="#fff"/>
<path d="M507.7 499.6L507.7 511.6L523.4 512M505 514.9L507.7 511.6" stroke-width="1.34"/>
<path d="M504.6 536L504.6 660M500.9 536L504.6 532.4L504.6 515.5" stroke-width="1.22"/>
<path d="M525.6 668L525.6 519.2L529.5 515.6L529.5 502.4L531.6 500.4L548.6 501.2L548.6 512.4L548.6 537L552.8 537L552.8 668Z" stroke-width="1.59" fill="#fff"/>
<path d="M531.6 500.4L531.6 512.2L548.6 512.6M529.5 515.6L531.6 512.2" stroke-width="1.34"/>
<path d="M529.5 536.6L529.5 662M525.6 536.6L529.5 533L529.5 516" stroke-width="1.22"/>
<path d="M527.6 538L527.6 660" stroke-width="2.44"/>
<path d="M549.4 525.1L593.7 526.2L593.7 539.6L549.4 538.4Z" stroke-width="1.46" fill="#fff"/>
<path d="M572.4 525.6L572.4 539" stroke-width="1.34"/>
<path d="M552.8 538.6L598 539.8L598 668L552.8 668Z" stroke-width="1.59" fill="#fff"/>
<path d="M577.5 539.2L577.5 668" stroke-width="1.46"/>
<path d="M478.7 665.7L500.9 666.3M552.8 665.7L598 667" stroke-width="1.34"/>
<path d="M598.8 547L609.1 536.5L609.1 583L598.8 594Z" stroke-width="1.46" fill="#fff"/>
<path d="M609.1 585.6L602.5 593.5L642 594.6L652.5 583" stroke-width="1.46" fill="#fff"/>
<path d="M598.4 582.6L602.6 582.6L602.6 596L598.4 596M600.5 586L600.5 593" stroke-width="1.22"/>
<rect x="615.9" y="521.7" width="24.7" height="11" stroke-width="1.46" fill="#fff" rx="1.5"/>
<ellipse cx="628.3" cy="522.4" rx="11.4" ry="1.4" stroke-width="1.22"/>
<rect x="609.1" y="532" width="43.4" height="53.6" stroke-width="1.59" fill="#fff" rx="3"/>
<rect x="615.6" y="587.4" width="24.6" height="11.4" stroke-width="1.46" fill="#fff" rx="1.5"/>
<path d="M616.5 596Q628 598.4 639.4 596" stroke-width="1.95"/>
<rect x="622.9" y="599.4" width="11.3" height="5.4" stroke-width="1.34" fill="#fff"/>
<path d="M599.6 670L598 670L581.8 687.4L580 686.4" stroke-width="1.46"/>
<path d="M609.6 608.1L659.7 609.6L667.9 618.8L667.9 668.9L658.7 678.1L607.1 676.6L599.4 668.9L599.9 615.8Z" stroke-width="1.71" fill="#fff"/>
<path d="M614.5 605.5L618 603.5L638 604L641.5 606.5" stroke-width="1.34"/>
<path d="M602 616.6L608.5 610.5L618.6 610.8L618.6 621L611 624.5L602 624" stroke-width="1.34"/>
<path d="M602 657.5L611.5 657.5L618.6 661L618.6 675.5M652.4 675L652.4 662L659 658L666 658.6" stroke-width="1.34"/>
<path d="M601.5 668.5L607.8 674.5L658 676L665.5 668.5" stroke-width="1.22"/>
<ellipse cx="611.7" cy="617.3" rx="4.7" ry="4.7" stroke-width="1.71" fill="#fff"/>
<ellipse cx="611.7" cy="617.3" rx="3.3" ry="3.3" stroke-width="1.1"/>
<path d="M609.5 615.1L613.9 619.5" stroke-width="1.34"/>
<path d="M609.5 619.5L613.9 615.1" stroke-width="1.34"/>
<ellipse cx="611.7" cy="663.8" rx="4.7" ry="4.7" stroke-width="1.71" fill="#fff"/>
<ellipse cx="611.7" cy="663.8" rx="3.3" ry="3.3" stroke-width="1.1"/>
<path d="M609.5 661.6L613.9 666" stroke-width="1.34"/>
<path d="M609.5 666L613.9 661.6" stroke-width="1.34"/>
<ellipse cx="658.2" cy="664.8" rx="4.7" ry="4.7" stroke-width="1.71" fill="#fff"/>
<ellipse cx="658.2" cy="664.8" rx="3.3" ry="3.3" stroke-width="1.1"/>
<path d="M656 662.6L660.4 667" stroke-width="1.34"/>
<path d="M656 667L660.4 662.6" stroke-width="1.34"/>
<ellipse cx="637.4" cy="638.2" rx="25.6" ry="25.6" stroke-width="1.59" fill="#fff"/>
<ellipse cx="638.2" cy="637.4" rx="24" ry="24" stroke-width="1.22"/>
<ellipse cx="639" cy="636.6" rx="22.6" ry="22.6" stroke-width="1.22"/>
<path d="M649.2 647.2L642.6 658" stroke-width="2.44"/>
<path d="M645.7 647.6L638.5 658.2" stroke-width="2.44"/>
<path d="M642.2 647.3L634.3 657.6" stroke-width="2.44"/>
<path d="M638.8 646.4L630.4 656.2" stroke-width="2.44"/>
<path d="M635.6 644.8L626.8 654.2" stroke-width="2.44"/>
<path d="M632.8 642.6L623.6 651.4" stroke-width="2.44"/>
<path d="M630.4 640L621 648.1" stroke-width="2.44"/>
<path d="M628.6 636.9L619.1 644.4" stroke-width="2.44"/>
<path d="M627.4 633.6L618 640.4" stroke-width="2.44"/>
<path d="M626.9 630.1L617.6 636.2" stroke-width="2.44"/>
<path d="M627.1 626.5L618 632.1" stroke-width="2.44"/>
<path d="M627.9 623.1L619.3 628.1" stroke-width="2.44"/>
<path d="M629.4 619.9L621.2 624.4" stroke-width="2.44"/>
<path d="M665 629.1L665.7 630.9L664.7 632.5L665.1 634.4L663.8 635.8L663.8 637.7L662.4 638.9L662.1 640.8L660.4 641.7L659.8 643.5L658 644.1L657.1 645.8L655.2 646.1L654 647.5L652.1 647.5L650.7 648.8L648.8 648.4L647.2 649.4L645.4 648.7L643.6 649.4L642 648.4L640.1 648.8L638.7 647.5L636.8 647.5L635.6 646.1L633.7 645.8L632.8 644.1L631 643.5L630.4 641.7L628.7 640.8L628.4 638.9L627 637.7L627 635.8L625.7 634.4L626.1 632.5L625.1 630.9L625.8 629.1L625.1 627.3L626.1 625.7L625.7 623.8L627 622.4L627 620.5L628.4 619.3L628.7 617.4L630.4 616.5L631 614.7L632.8 614.1L633.7 612.4L635.6 612.1L636.8 610.7L638.7 610.7L640.1 609.4L642 609.8L643.6 608.8L645.4 609.5L647.2 608.8L648.8 609.8L650.7 609.4L652.1 610.7L654 610.7L655.2 612.1L657.1 612.4L658 614.1L659.8 614.7L660.4 616.5L662.1 617.4L662.4 619.3L663.8 620.5L663.8 622.4L665.1 623.8L664.7 625.7L665.7 627.3Z" stroke-width="1.83" fill="#fff"/>
<path d="M626.4 622.5L612.8 639.5M664.6 634L651 657" stroke-width="1.34"/>
<path d="M660 612.5L666 620.5L666.5 632M655 610.5L663.5 611.5" stroke-width="2.68"/>
<path d="M626.5 620Q632 610.5 641 609.4" stroke-width="2.93"/>
<path d="M614.2 681.5L642.4 682.5L642.4 692.5Q628 696.5 614.2 692Z" stroke-width="1.59" fill="#fff"/>
<path d="M620.5 681.8L620.5 693.6M634.8 682.2L634.8 694" stroke-width="1.22"/>
<path d="M616 678.2L616 681.5M640.6 678.2L640.6 682.4" stroke-width="1.22"/>
<path d="M463 653.6L463 682.9L484.8 683.6L501.1 666.6L479.3 665.9L463 682.9" stroke-width="1.46" fill="#fff"/>
<path d="M479.3 650L479.3 665.9M501.1 650L501.1 666.6" stroke-width="1.46"/>
<path d="M489.5 679.5L489.5 700L507.2 700.6L507.2 690" stroke-width="1.46" fill="#fff"/>
<path d="M493.6 683L493.6 698M501.6 684L501.6 698.4" stroke-width="1.22"/>
<path d="M504.5 650L504.5 660.4L508.6 660.4L508.6 685L523.6 685.6L523.6 650" stroke-width="1.46" fill="#fff"/>
<path d="M501.1 666.6L508.6 660.4M504.5 669.4L508.6 665.6" stroke-width="2.2"/>
<path d="M504.5 669.4L504.5 695L508.6 692L508.6 685" stroke-width="1.34"/>
<path d="M507.2 685L507.2 697.6L522 698.2L522 686" stroke-width="1.34" fill="#fff"/>
<path d="M527.7 650L527.7 660.8L533 660.8L533 685.6L548 686.2L548 650" stroke-width="1.46" fill="#fff"/>
<path d="M523.6 668L531.6 660.8M527.7 671L533 666" stroke-width="2.2"/>
<path d="M527.7 671L527.7 696.4L531.6 693L531.6 685.6" stroke-width="1.34"/>
<path d="M531.6 686L531.6 698.4L547 699L547 686.4" stroke-width="1.34" fill="#fff"/>
<path d="M548 660.8L552.2 660.8M548 664L552.2 660.8" stroke-width="1.46"/>
<path d="M552.2 650L552.2 667.3L597.9 668.6L597.9 650" stroke-width="1.46"/>
<path d="M552.2 667.3L597.9 668.6L582.2 686.3L568 686" stroke-width="1.46" fill="#fff"/>
<path d="M577.6 668L577.6 650" stroke-width="1.22"/>
<path d="M570.6 682L582 669" stroke-width="1.22"/>
<path d="M548.8 672L548.8 686A10.9 2.6 0 0 0 570.6 686L570.6 672A10.9 2.6 0 0 0 548.8 672Z" stroke-width="1.59" fill="#fff"/>
<path d="M551.6 689.4L551.6 693L568 693.4L568 689.6" stroke-width="1.34"/>
<path d="M548 693L571.6 693.6L572.6 696L572.6 701.6L548 701Z" stroke-width="1.59" fill="#fff"/>
<path d="M552 693.4L552 701.4" stroke-width="1.22"/>
<path d="M562 693.4L562 701.4" stroke-width="1.22"/>
<path d="M569 693.4L569 701.4" stroke-width="1.22"/>
<path d="M518.4 701L518.4 728L514.1 728L514.1 750.5L523 750.5Q532 748 532 738L531.1 701Z" stroke-width="1.46" fill="#fff"/>
<path d="M514.1 734Q523 735 531 728" stroke-width="1.22"/>
<path d="M491.1 727.6L514.1 727.6A3 11.4 0 0 1 514.1 750.4L491.1 750.4A3 11.4 0 0 1 491.1 727.6Z" stroke-width="1.59" fill="#fff"/>
<path d="M491.1 727.6A3 11.4 0 0 1 491.1 750.4" stroke-width="1.59"/>
<ellipse cx="491.9" cy="739" rx="2" ry="9.6" stroke-width="1.22"/>
<ellipse cx="492.7" cy="739" rx="1.2" ry="8" stroke-width="0.98"/>
<path d="M493 701L493 703.7L489.4 703.7L489.4 725.8L498 725.8Q507.3 723 507.3 713L507.3 701Z" stroke-width="1.46" fill="#fff"/>
<path d="M489.4 709Q499 710 507 703" stroke-width="1.22"/>
<path d="M465.6 703.6L489.4 703.6A2.9 11.1 0 0 1 489.4 725.8L465.6 725.8A2.9 11.1 0 0 1 465.6 703.6Z" stroke-width="1.59" fill="#fff"/>
<path d="M465.6 703.6A2.9 11.1 0 0 1 465.6 725.8" stroke-width="1.59"/>
<ellipse cx="466.4" cy="714.7" rx="2" ry="9.4" stroke-width="1.22"/>
<ellipse cx="467.2" cy="714.7" rx="1.2" ry="7.8" stroke-width="0.98"/>
<path d="M545.6 701L545.6 720L572 720L572 701Z" stroke-width="1.46" fill="#fff"/>
<path d="M579.7 705Q580 702.8 583 702.8L598.6 703.4L598.6 708.6L601.8 708.8L601.8 769L598.6 769L598.6 772.6L584 776.9L576 776.9L579.7 772Z" stroke-width="1.46" fill="#fff"/>
<path d="M583.6 703L583.6 774M587.4 706L587.4 772M598.6 708.6L598.6 769" stroke-width="1.22"/>
<path d="M572 708L579.7 708L579.7 720M572 766L579.7 766L579.7 758" stroke-width="1.22"/>
<path d="M601.8 715.6L616 716.6Q620.6 740 616 765.8L601.8 765" stroke-width="1.46" fill="#fff"/>
<path d="M606 716L606 765.4" stroke-width="1.1"/>
<path d="M618.5 720Q622 740 618.5 762L640 763.5L640 719Z" stroke-width="1.46" fill="#fff"/>
<rect x="620.8" y="721" width="19" height="3.6" stroke-width="0.12" fill="#151515"/>
<rect x="620.8" y="727" width="19" height="3.6" stroke-width="0.12" fill="#151515"/>
<rect x="620.8" y="733.5" width="19" height="3.6" stroke-width="0.12" fill="#151515"/>
<rect x="620.8" y="740" width="19" height="3.6" stroke-width="0.12" fill="#151515"/>
<rect x="620.8" y="746.5" width="19" height="3.6" stroke-width="0.12" fill="#151515"/>
<rect x="620.8" y="753" width="19" height="3.6" stroke-width="0.12" fill="#151515"/>
<rect x="620.8" y="759" width="19" height="3.6" stroke-width="0.12" fill="#151515"/>
<path d="M545.6 715.6Q538 722 538 738Q538 754 545.6 760.7L579 762L583 738L579 717Z" stroke-width="1.59" fill="#fff"/>
<path d="M545.6 715.6Q563 712 581 717.5M545.6 760.7Q563 765 581 759" stroke-width="1.46"/>
<path d="M551 716Q544 738 551 761M556 716Q549 738 556 761" stroke-width="1.1"/>
<ellipse cx="562.7" cy="733.5" rx="11" ry="11" stroke-width="1.59" fill="#fff"/>
<ellipse cx="563.5" cy="733.5" rx="9.4" ry="9.4" stroke-width="1.22"/>
<path d="M573.6 731.6L583.5 732M573.6 735.8L583.5 736.2" stroke-width="1.34"/>
<path d="M545.6 757L545.6 768L572 768.6L572 760" stroke-width="1.46" fill="#fff"/>
<path d="M545.6 768Q559 765.6 572.6 768.6L572.6 786.3Q559 788.8 545.6 786Z" stroke-width="1.59" fill="#fff"/>
<path d="M550.5 767.4L550.5 787" stroke-width="1.34"/>
<path d="M562 767.4L562 787" stroke-width="1.34"/>
<path d="M568 767.4L568 787" stroke-width="1.34"/>
<path d="M549 787L549 797M568 787L568 800" stroke-width="1.34"/>
<path d="M547 795Q554 792 560 799L571 806L566 832L542 826Z" stroke-width="1.46" fill="#fff"/>
<path d="M543.5 806L541 828Q543 836.5 554 837Q565 836.6 566 828L563.5 804Z" stroke-width="1.59" fill="#fff"/>
<ellipse cx="553.3" cy="826.3" rx="11" ry="6.6" stroke-width="1.59" fill="#fff"/>
<ellipse cx="553.3" cy="826.6" rx="7.4" ry="4.2" stroke-width="1.59"/>
<path d="M548 797Q556 799 560 808" stroke-width="1.22"/>
<path d="M563 800L569 800M563 803L569 803" stroke-width="1.95"/>
<path d="M470.3 817L470.3 850A30.6 5 0 0 0 531.6 850L531.6 817Z" stroke-width="1.59" fill="#fff"/>
<path d="M470.3 847.4A30.6 5 0 0 0 531.5 847.4" stroke-width="1.95"/>
<path d="M477.1 854L477.1 861A23.4 4.4 0 0 0 523.9 861L523.9 854" stroke-width="1.46" fill="#fff"/>
<path d="M477.1 858A23.4 4.4 0 0 0 523.9 858" stroke-width="1.95"/>
<path d="M482 864Q500.5 868.4 519.6 864" stroke-width="1.34"/>
<path d="M478.3 866.5L478.3 903.4A22.6 5.1 0 0 0 523.6 903.4L523.6 866.5Q500.9 871.5 478.3 866.5Z" stroke-width="1.59" fill="#fff"/>
<ellipse cx="500.9" cy="903.4" rx="22.6" ry="5.1" stroke-width="1.46"/>
<path d="M479.5 905A21.4 4.6 0 0 1 522.3 905" stroke-width="1.1"/>
<path d="M440 786.5L451 786.5L451 806.6L440 806.6" stroke-width="1.46" fill="#fff"/>
<ellipse cx="451.3" cy="796.6" rx="1.8" ry="10" stroke-width="1.46" fill="#fff"/>
<rect x="452" y="790.5" width="10.2" height="12" stroke-width="1.46" fill="#fff"/>
<path d="M462.1 785L466 782L473.5 783L476 790L476 806L472.5 812.5L465 812.6L462.1 808Z" stroke-width="1.59" fill="#fff"/>
<path d="M466 782L467.6 790L467.6 806L465 812.6M467.6 790L476 790M467.6 806L476 806" stroke-width="1.22"/>
<path d="M471 780L484 776.6L481 815.4L470 811" stroke-width="1.46" fill="#fff"/>
<path d="M474 780L478 778.4M474.6 812L479 814.6" stroke-width="1.1"/>
<ellipse cx="510.8" cy="792.4" rx="32.2" ry="32.2" stroke-width="1.95" fill="#fff"/>
<ellipse cx="512.6" cy="791.2" rx="30.6" ry="30.6" stroke-width="1.34"/>
<ellipse cx="513.6" cy="790.4" rx="29.4" ry="29.4" stroke-width="1.22"/>
<ellipse cx="515.1" cy="789.4" rx="28.1" ry="28.1" stroke-width="2.07" fill="#fff"/>
<path d="M502.8 800.6A17.4 17.4 0 1 1 527.4 800.6" stroke-width="1.34"/>
<path d="M499.5 803.6L511.6 790.6M501 805L513 791.6" stroke-width="1.22"/>
<path d="M516.5 786L519.5 779.5L525 784.5L517.5 788.5" stroke-width="1.22"/>
<ellipse cx="514.1" cy="788.3" rx="3.4" ry="3.4" stroke-width="1.34" fill="#fff"/>
<path d="M499 803L500.8 804.8" stroke-width="2.44"/>
<rect x="512" y="800.6" width="3.4" height="5" stroke-width="0.12" fill="#151515"/>
<rect x="509.6" y="805" width="8.4" height="1.6" stroke-width="0.12" fill="#151515"/>
<rect x="507.5" y="810.6" width="14" height="1.9" stroke-width="0.12" fill="#151515"/>
<ellipse cx="508" cy="803" rx="1.2" ry="1.2" stroke-width="0.98"/>
<ellipse cx="520.6" cy="803" rx="1.2" ry="1.2" stroke-width="0.98"/>
<rect x="525.6" y="797.2" width="3.2" height="1.4" stroke-width="0.12" fill="#151515"/>
<rect x="527" y="802.6" width="2.4" height="2" stroke-width="0.12" fill="#151515"/>
<rect x="527.6" y="807.6" width="4" height="1.6" stroke-width="0.12" fill="#151515"/>
<path d="M618.5 720Q622 741 618.5 763L652 764.6Q658.8 742 652 719.6Z" stroke-width="1.46" fill="#fff"/>
<clipPath id="cpKn"><path d="M631 719.4L652 719.6Q658.8 742 652 764.8L629.6 763.8Q633.4 741 631 719.4Z"/></clipPath>
<g clip-path="url(#cpKn)">
<rect x="628" y="718" width="32" height="10.4" stroke-width="0.12" fill="#131313"/>
<rect x="628" y="729.3" width="32" height="4.1" stroke-width="0.12" fill="#131313"/>
<rect x="628" y="735.4" width="32" height="1.2" stroke-width="0.12" fill="#131313"/>
<rect x="628" y="741" width="32" height="2.2" stroke-width="0.12" fill="#131313"/>
<rect x="628" y="747.7" width="32" height="2.6" stroke-width="0.12" fill="#131313"/>
<rect x="628" y="753.8" width="32" height="2.7" stroke-width="0.12" fill="#131313"/>
<rect x="628" y="757.4" width="32" height="8.6" stroke-width="0.12" fill="#131313"/>
<rect x="640" y="723.2" width="20" height="0.6" stroke-width="0.12" fill="#ccc"/>
<rect x="640" y="761" width="20" height="0.6" stroke-width="0.12" fill="#ccc"/>
</g>
<path d="M652 719.6Q658.8 742 652 764.6" stroke-width="1.83"/>
<path d="M631 719.4Q633.4 741 629.6 763.8" stroke-width="1.22"/>
<path d="M619.6 720.6Q624.4 741 619.6 763" stroke-width="1.59"/>
<path d="M618.4 694L618.4 711Q628.5 714.5 638.7 711L638.7 694Z" stroke-width="1.46" fill="#fff"/>
<path d="M618.4 709.6A10.1 2.4 0 0 0 638.6 709.6" stroke-width="2.68"/>
<path d="M630.4 713.4L630.4 719.4" stroke-width="1.22"/>
<path d="M630.4 764.7L630.4 775.4" stroke-width="1.22"/>
<path d="M630.4 874L630.4 933" stroke-width="1.22"/>
<path d="M615.3 777Q628 773.5 641.1 777L641.1 794.5L615.3 794.5Z" stroke-width="1.59" fill="#fff"/>
<path d="M619.6 776L619.6 794.5" stroke-width="1.46"/>
<path d="M622 776L622 794.5" stroke-width="1.46"/>
<path d="M634 776L634 794.5" stroke-width="1.46"/>
<path d="M637 776L637 794.5" stroke-width="1.46"/>
<path d="M612.9 794.5Q628 791 643.5 794.5L643.5 838L612.9 838Z" stroke-width="1.59" fill="#fff"/>
<path d="M608.9 838.6Q628 834.5 647 838.6L647 851Q628 856 608.9 851Z" stroke-width="1.71" fill="#fff"/>
<path d="M608.9 843Q628 847.6 647 843M608.9 846Q628 850.6 647 846" stroke-width="1.34"/>
<path d="M620 837.5L620 846.8" stroke-width="1.34"/>
<path d="M623.4 837.5L623.4 846.8" stroke-width="1.34"/>
<path d="M634 837.5L634 846.8" stroke-width="1.34"/>
<path d="M637 837.5L637 846.8" stroke-width="1.34"/>
<path d="M615.3 853.4L615.3 872Q627.6 876.6 639.9 872L639.9 853.4" stroke-width="1.59" fill="#fff"/>
<path d="M619.4 854.6L619.4 874" stroke-width="1.59"/>
<path d="M622.2 854.6L622.2 874" stroke-width="1.59"/>
<path d="M632.6 854.6L632.6 874" stroke-width="1.59"/>
<path d="M635.6 854.6L635.6 874" stroke-width="1.59"/>
<path d="M615.3 870A12.3 3 0 0 0 639.9 870" stroke-width="2.2"/>
<ellipse cx="650.2" cy="875.6" rx="2.2" ry="8.4" stroke-width="1.71" fill="#fff"/>
<ellipse cx="650.2" cy="875.6" rx="1" ry="6.4" stroke-width="1.1"/>
<path d="M639.9 892.3L651.8 892.3L651.8 910.1L639.9 910.1Z" stroke-width="1.46" fill="#fff"/>
<path d="M639.9 897.6L651.8 897.6" stroke-width="1.22"/>
<path d="M638.6 888L638.6 934.5M641.6 910L641.6 934.6M646 910L646 934.8M650.4 910L650.4 935" stroke-width="1.34"/>
<path d="M297.7 788L323 789.7L328.3 783" stroke-width="1.46"/>
<path d="M328.3 759L334 758.5Q340 772 334.6 785.6L328.3 785.4" stroke-width="1.46" fill="#fff"/>
<path d="M331 759Q335.6 772 331.6 785.4" stroke-width="1.1"/>
<path d="M297.7 793L322 794.6L322.6 800M315 794L315.6 800" stroke-width="1.22"/>
<path d="M297.7 790.5L429 796.2Q436.5 797 436.5 803L436.5 887.6L434.8 892.8L297.7 887.7Z" stroke-width="1.59" fill="#fff"/>
<path d="M432.3 797L432.3 888.6" stroke-width="1.34"/>
<path d="M297.7 862.9L436.5 869.1" stroke-width="2.44"/>
<path d="M297.7 887.7L432.3 892.8L404.1 923.5L297.7 920.1" stroke-width="1.46" fill="#fff"/>
<path d="M433.6 894L405 925" stroke-width="1.22"/>
<path d="M297.7 882.6L436.5 887" stroke-width="1.22"/>
<path d="M437 834L444 830Q457 829 461.5 840Q465.4 855 461 869L455.5 877L442 878.4L437 874Z" stroke-width="1.59" fill="#fff"/>
<path d="M437 840L441.4 840L441.4 868L437 868M441.4 840Q452 838 458 842.5Q461.6 855 458 866.5Q450 869.5 441.4 868" stroke-width="1.22"/>
<path d="M458 842.5L461.5 840M458 866.5L461 869" stroke-width="1.1"/>
<path d="M437 874L455.5 877M438 870.6L456.5 873.5M439 881.5L452.6 883.6L456.8 879M441 886L451 887.6" stroke-width="1.34"/>
<rect x="340.3" y="690" width="40" height="39.2" stroke-width="1.59" fill="#fff"/>
<ellipse cx="360.7" cy="708.7" rx="8.6" ry="8.6" stroke-width="1.46" fill="#fff"/>
<path d="M352.09999999999997 702.7L352.09999999999997 715.7Q352.7 718.3000000000001 356.7 718.5" stroke-width="1.22"/>
<ellipse cx="361.3" cy="709.3" rx="5.2" ry="5.2" stroke-width="1.71"/>
<ellipse cx="361.9" cy="709.7" rx="3" ry="3" stroke-width="1.34"/>
<ellipse cx="374.7" cy="696.3" rx="2.9" ry="2.9" stroke-width="1.46" fill="#fff"/>
<ellipse cx="347.4" cy="722.4" rx="2.9" ry="2.9" stroke-width="1.46" fill="#fff"/>
<path d="M353 691L354.5 698.5M367 691L367.4 697.5M370.5 703.6L378 704.4M370.5 711L378 712.6M341 716L349.5 714.6M353 726L354 719.6M364 728L364.6 720" stroke-width="1.34"/>
<rect x="394.8" y="730" width="28.2" height="40" stroke-width="1.59" fill="#fff"/>
<ellipse cx="402.4" cy="748.8" rx="8.6" ry="8.6" stroke-width="1.46" fill="#fff"/>
<path d="M393.79999999999995 742.8L393.79999999999995 755.8Q394.4 758.4 398.4 758.5999999999999" stroke-width="1.22"/>
<ellipse cx="403" cy="749.4" rx="5.2" ry="5.2" stroke-width="1.71"/>
<ellipse cx="403.6" cy="749.8" rx="3" ry="3" stroke-width="1.34"/>
<ellipse cx="416.9" cy="736" rx="2.9" ry="2.9" stroke-width="1.46" fill="#fff"/>
<ellipse cx="389.7" cy="762.4" rx="2.9" ry="2.9" stroke-width="1.46" fill="#fff"/>
<path d="M398 731.2L399 737M409 731.5L409.4 738.6M412.4 743L421.6 744.4M412 754L421.6 756.6M398 768L398.6 760.6M408.6 769L409 761" stroke-width="1.34"/>
<ellipse cx="389.7" cy="762.4" rx="2.9" ry="2.9" stroke-width="1.46" fill="#fff"/>
<path d="M364.1 780L364.1 795L389.7 796L389.7 780Z" stroke-width="1.46" fill="#fff"/>
<path d="M364.1 776A13.2 2.4 0 0 0 390.5 776" stroke-width="1.83"/>
<path d="M364.1 778A13.2 2.4 0 0 0 390.5 778" stroke-width="1.83"/>
<path d="M364.1 780A13.2 2.4 0 0 0 390.5 780" stroke-width="1.83"/>
<path d="M369.2 765L369.2 776M384.6 765L384.6 776" stroke-width="1.46"/>
<rect x="369.2" y="764" width="15.4" height="12" stroke-width="0.12" fill="#fff"/>
<path d="M369.2 764L369.2 776" stroke-width="1.46"/>
<path d="M384.6 764L384.6 776" stroke-width="1.46"/>
<path d="M363.5 741Q365 745.5 366.5 747L368.6 765L385.5 765L392 741Z" stroke-width="1.46" fill="#fff"/>
<path d="M364 736L363.5 741M366.5 747Q369 752 368.6 758" stroke-width="1.22"/>
<ellipse cx="378.6" cy="749.4" rx="9.4" ry="9.4" stroke-width="1.22"/>
<ellipse cx="380.3" cy="748.8" rx="9.4" ry="9.4" stroke-width="1.59" fill="#fff"/>
<path d="M367.4 714.4A12.4 2.6 0 0 1 392.2 714.4L392.2 739.4A12.4 2.6 0 0 1 367.4 739.4Z" stroke-width="1.59" fill="#fff"/>
<path d="M367.4 716.2A12.4 2.4 0 0 0 392.2 716.2" stroke-width="1.22"/>
<path d="M367.4 717.6A12.4 2.4 0 0 0 392.2 717.6" stroke-width="0.98"/>
<path d="M367.4 739.4A12.4 3 0 0 0 392.2 739.4" stroke-width="1.22"/>
<path d="M389.7 781.6L409 783.2L414.4 785.6L426.3 786.2L426.3 797L389.7 795.6Z" stroke-width="1.46" fill="#fff"/>
<path d="M409 783.2Q411.6 790 410 796.4M414.4 785.6Q416.4 791 415 796.6" stroke-width="1.1"/>
<path d="M426.3 785.4L449.5 786Q452 797 449.5 807.5L436.5 807.2L436.5 797L426.3 796.6Z" stroke-width="1.46" fill="#fff"/>
<path d="M428.4 785.6Q430 791 428.4 796.6" stroke-width="1.1"/>
<path d="M446.4 786Q448.8 797 446.4 807.4" stroke-width="1.95"/>
<path d="M543 929.8L551.6 916L555.6 917.6L547.4 930.4M551.6 916L563 922.6" stroke-width="1.46"/>
<g transform="rotate(-9 572 885)">
<path d="M559.8 886A12.2 2.6 0 0 1 584.2 886L584.2 908A12.2 2.6 0 0 1 559.8 908Z" stroke-width="1.59" fill="#fff"/>
<path d="M559.8 888.4A12.2 2.4 0 0 0 584.2 888.4" stroke-width="1.22"/>
<path d="M559.8 890A12.2 2.4 0 0 0 584.2 890" stroke-width="1.1"/>
<path d="M559.8 905.4A12.2 2.6 0 0 0 584.2 905.4" stroke-width="1.22"/>
</g>
<path d="M564 911Q566 925 574 931.6L582.6 931.6Q587 920 585.6 908.5Z" stroke-width="1.46" fill="#fff"/>
<path d="M566.4 914.5Q575 917.5 585 911.5M568.6 921Q576 922.6 584.4 918" stroke-width="1.22"/>
<ellipse cx="594.6" cy="921.8" rx="9.9" ry="9.9" stroke-width="1.71" fill="#fff"/>
<ellipse cx="593.8" cy="922.4" rx="6" ry="6" stroke-width="1.59"/>
<path d="M585 914Q590 910.5 596 911.8" stroke-width="1.22"/>
<path d="M604 928.6L620 918.8M600 931L606.4 934" stroke-width="1.34"/>
<path d="M701 204.9L1053.8 147.9L1064.8 151.3L1068.2 155.6L1068.2 912L1064.8 916.3L717 973.3L701.8 967.8Z" stroke-width="0.12" fill="#fff"/>
<path d="M700.1 205L700.1 964" stroke-width="1.95"/>
<path d="M702.3 206L702.3 966" stroke-width="1.46"/>
<path d="M712.8 204L712.8 969.5" stroke-width="1.1"/>
<path d="M715.6 208L715.6 970" stroke-width="1.1"/>
<path d="M701 204.9L1053.8 147.9" stroke-width="1.71"/>
<path d="M712.9 204.2L1045 150.6" stroke-width="1.22"/>
<path d="M714.6 208.8L1053 155.5" stroke-width="1.22"/>
<path d="M715.8 211.5L1052 158" stroke-width="1.22"/>
<path d="M701 204.9L712.9 204.2L714.6 208.8" stroke-width="1.22"/>
<path d="M1053.8 148L1053.8 912" stroke-width="1.95"/>
<path d="M1056.3 150L1056.3 910" stroke-width="1.22"/>
<path d="M1066.5 153L1066.5 913" stroke-width="1.22"/>
<path d="M1068.2 155.6L1068.2 912" stroke-width="1.59"/>
<path d="M1045 149.5Q1049 147 1053.8 147.9L1062 149.5Q1067 151 1068.2 155.6" stroke-width="1.71"/>
<path d="M1044 150.8Q1043 153.5 1047 154L1053.8 153" stroke-width="1.95"/>
<path d="M700.1 964Q700.3 967.5 704 967.5L1050 912.8Q1053.8 912 1053.8 909" stroke-width="1.83"/>
<path d="M706 969.3L1048 915" stroke-width="1.22"/>
<path d="M717.1 973.2L1062 917" stroke-width="1.46"/>
<path d="M1053.8 912L1063 913.5L1068.2 911.5" stroke-width="1.34"/>
<path d="M1044 915.5Q1046 918 1050 917.5L1062 917Q1066.5 916 1068.2 911.5" stroke-width="1.71"/>
<path d="M713 970L717.1 973.2" stroke-width="1.46"/>
<path d="M735.9 912.4L735.9 252.1L750.3 250L750.3 910.6" stroke-width="1.59" fill="#fff"/>
<path d="M750.3 250L750.3 910.6" stroke-width="2.2"/>
<path d="M735.9 910.6L737 913.8L751.2 912.2L750.3 910.6" stroke-width="1.34"/>
<ellipse cx="743.1" cy="270.4" rx="1.9" ry="2.7" stroke-width="1.83" transform="rotate(18 743.1 270.4)"/>
<ellipse cx="743.1" cy="309.1" rx="1.9" ry="2.7" stroke-width="1.83" transform="rotate(18 743.1 309.1)"/>
<ellipse cx="743.1" cy="347.9" rx="1.9" ry="2.7" stroke-width="1.83" transform="rotate(18 743.1 347.9)"/>
<ellipse cx="743.1" cy="386.6" rx="1.9" ry="2.7" stroke-width="1.83" transform="rotate(18 743.1 386.6)"/>
<ellipse cx="743.1" cy="425.4" rx="1.9" ry="2.7" stroke-width="1.83" transform="rotate(18 743.1 425.4)"/>
<ellipse cx="743.1" cy="464.1" rx="1.9" ry="2.7" stroke-width="1.83" transform="rotate(18 743.1 464.1)"/>
<ellipse cx="743.1" cy="502.9" rx="1.9" ry="2.7" stroke-width="1.83" transform="rotate(18 743.1 502.9)"/>
<ellipse cx="743.1" cy="541.6" rx="1.9" ry="2.7" stroke-width="1.83" transform="rotate(18 743.1 541.6)"/>
<ellipse cx="743.1" cy="580.4" rx="1.9" ry="2.7" stroke-width="1.83" transform="rotate(18 743.1 580.4)"/>
<ellipse cx="743.1" cy="619.1" rx="1.9" ry="2.7" stroke-width="1.83" transform="rotate(18 743.1 619.1)"/>
<ellipse cx="743.1" cy="657.9" rx="1.9" ry="2.7" stroke-width="1.83" transform="rotate(18 743.1 657.9)"/>
<ellipse cx="743.1" cy="696.6" rx="1.9" ry="2.7" stroke-width="1.83" transform="rotate(18 743.1 696.6)"/>
<ellipse cx="743.1" cy="735.4" rx="1.9" ry="2.7" stroke-width="1.83" transform="rotate(18 743.1 735.4)"/>
<ellipse cx="743.1" cy="774.1" rx="1.9" ry="2.7" stroke-width="1.83" transform="rotate(18 743.1 774.1)"/>
<ellipse cx="743.1" cy="812.9" rx="1.9" ry="2.7" stroke-width="1.83" transform="rotate(18 743.1 812.9)"/>
<ellipse cx="743.1" cy="851.6" rx="1.9" ry="2.7" stroke-width="1.83" transform="rotate(18 743.1 851.6)"/>
<ellipse cx="743.1" cy="890.4" rx="1.9" ry="2.7" stroke-width="1.83" transform="rotate(18 743.1 890.4)"/>
<path d="M762.7 262L762.7 327L774.4 339L774.4 819.5L761.8 834.5L761.8 872L774.4 884.5L774.4 909.6L751.2 912.4" stroke-width="1.71"/>
<path d="M761.3 263L761.3 326.5" stroke-width="1.1"/>
<path d="M775.6 340L775.6 819" stroke-width="0.98"/>
<path d="M1002.3 868L1002.3 209.2L1016 206.7L1030.3 210L1030.3 868.6" stroke-width="1.59" fill="#fff"/>
<path d="M1014.4 207L1014.4 867" stroke-width="1.22"/>
<path d="M1020.3 207.8L1020.3 867.6" stroke-width="1.22"/>
<path d="M1002.3 867.7L1003.4 873L1021 870.2L1030.3 868.8L1014.4 866.8L1002.3 867.7" stroke-width="1.34"/>
<ellipse cx="1009.2" cy="228" rx="1.9" ry="2.7" stroke-width="1.83" transform="rotate(18 1009.2 228)"/>
<ellipse cx="1009.2" cy="266.8" rx="1.9" ry="2.7" stroke-width="1.83" transform="rotate(18 1009.2 266.8)"/>
<ellipse cx="1009.2" cy="305.5" rx="1.9" ry="2.7" stroke-width="1.83" transform="rotate(18 1009.2 305.5)"/>
<ellipse cx="1009.2" cy="344.2" rx="1.9" ry="2.7" stroke-width="1.83" transform="rotate(18 1009.2 344.2)"/>
<ellipse cx="1009.2" cy="383" rx="1.9" ry="2.7" stroke-width="1.83" transform="rotate(18 1009.2 383)"/>
<ellipse cx="1009.2" cy="421.8" rx="1.9" ry="2.7" stroke-width="1.83" transform="rotate(18 1009.2 421.8)"/>
<ellipse cx="1009.2" cy="460.5" rx="1.9" ry="2.7" stroke-width="1.83" transform="rotate(18 1009.2 460.5)"/>
<ellipse cx="1009.2" cy="499.2" rx="1.9" ry="2.7" stroke-width="1.83" transform="rotate(18 1009.2 499.2)"/>
<ellipse cx="1009.2" cy="538" rx="1.9" ry="2.7" stroke-width="1.83" transform="rotate(18 1009.2 538)"/>
<ellipse cx="1009.2" cy="576.8" rx="1.9" ry="2.7" stroke-width="1.83" transform="rotate(18 1009.2 576.8)"/>
<ellipse cx="1009.2" cy="615.5" rx="1.9" ry="2.7" stroke-width="1.83" transform="rotate(18 1009.2 615.5)"/>
<ellipse cx="1009.2" cy="654.2" rx="1.9" ry="2.7" stroke-width="1.83" transform="rotate(18 1009.2 654.2)"/>
<ellipse cx="1009.2" cy="693" rx="1.9" ry="2.7" stroke-width="1.83" transform="rotate(18 1009.2 693)"/>
<ellipse cx="1009.2" cy="731.8" rx="1.9" ry="2.7" stroke-width="1.83" transform="rotate(18 1009.2 731.8)"/>
<ellipse cx="1009.2" cy="770.5" rx="1.9" ry="2.7" stroke-width="1.83" transform="rotate(18 1009.2 770.5)"/>
<ellipse cx="1009.2" cy="809.2" rx="1.9" ry="2.7" stroke-width="1.83" transform="rotate(18 1009.2 809.2)"/>
<ellipse cx="1009.2" cy="848" rx="1.9" ry="2.7" stroke-width="1.83" transform="rotate(18 1009.2 848)"/>
<path d="M853.3 274.6L988.6 252.7L988.6 413.6L853.3 436.9Z" stroke-width="1.71" fill="#fff"/>
<path d="M987.2 253.2L987.2 413.8" stroke-width="1.1"/>
<path d="M923 425L923 432.4L944.3 429L944.3 421.4" stroke-width="1.34" fill="#fff"/>
<ellipse cx="920" cy="296.1" rx="5.2" ry="5.2" stroke-width="1.95" fill="#444"/>
<ellipse cx="920" cy="296.1" rx="3" ry="3" stroke-width="1.22" fill="#bbb"/>
<ellipse cx="920" cy="296.1" rx="1.2" ry="1.2" stroke-width="0.98" fill="#333"/>
<ellipse cx="881.4" cy="387.6" rx="5.2" ry="5.2" stroke-width="1.95" fill="#444"/>
<ellipse cx="881.4" cy="387.6" rx="3" ry="3" stroke-width="1.22" fill="#bbb"/>
<ellipse cx="881.4" cy="387.6" rx="1.2" ry="1.2" stroke-width="0.98" fill="#333"/>
<ellipse cx="960.6" cy="388.4" rx="5.2" ry="5.2" stroke-width="1.95" fill="#444"/>
<ellipse cx="960.6" cy="388.4" rx="3" ry="3" stroke-width="1.22" fill="#bbb"/>
<ellipse cx="960.6" cy="388.4" rx="1.2" ry="1.2" stroke-width="0.98" fill="#333"/>
<path d="M880.6 433.2L875.5 451.1M889.1 432.4L883.1 450.3M882 441.6L900 439.6" stroke-width="1.22"/>
<path d="M732.4 633L732.4 682.3L1018.4 637.1L1018.4 566.4L977.5 573.2C962 571 954.5 552 956.5 538C958 526 961.5 518 965 514L1018.4 505.6L1018.4 434.9L935.8 447.7L935.8 613.9L739.3 644.3L739.3 633Z" stroke-width="1.71" fill="#fff"/>
<path d="M1016.8 435.4L1016.8 505.4" stroke-width="1.1"/>
<path d="M1016.8 566.8L1016.8 637.2" stroke-width="1.1"/>
<path d="M991.2 509.9L1018.4 505.6" stroke-width="1.59"/>
<path d="M1002.2 508.4L1002.2 565.6M1014.2 506.6L1014.2 566.8" stroke-width="1.22"/>
<ellipse cx="1009.4" cy="537.6" rx="1.9" ry="2.7" stroke-width="1.83" transform="rotate(18 1009.4 537.6)"/>
<ellipse cx="1006.5" cy="459.1" rx="7.1" ry="8.1" stroke-width="1.83" fill="#fff"/>
<ellipse cx="1005.9" cy="459.1" rx="1.2" ry="7.6" stroke-width="1.34"/>
<path d="M1008.7 452.1Q1011.1 459.1 1008.7 466.1" stroke-width="1.1"/>
<ellipse cx="1006.5" cy="614.4" rx="7.1" ry="8.1" stroke-width="1.83" fill="#fff"/>
<ellipse cx="1005.9" cy="614.4" rx="1.2" ry="7.6" stroke-width="1.34"/>
<path d="M1008.7 607.4Q1011.1 614.4 1008.7 621.4" stroke-width="1.1"/>
<ellipse cx="740.4" cy="657.1" rx="7.1" ry="8.1" stroke-width="1.83" fill="#fff"/>
<ellipse cx="739.8" cy="657.1" rx="1.2" ry="7.6" stroke-width="1.34"/>
<path d="M742.6 650.1Q745.0 657.1 742.6 664.1" stroke-width="1.1"/>
<path d="M739.3 473.6L934.3 442.4L934.3 614.1L739.3 644.3Z" stroke-width="1.71" fill="#fff"/>
<path d="M935.9 443.6L935.9 614.4" stroke-width="1.22"/>
<path d="M828.6 457.1L859.3 451.4L866.1 453.7L866.1 463L836.3 468.1L828.6 465.6Z" stroke-width="1.46" fill="#fff"/>
<path d="M828.6 457.1L836.3 459.6L866.1 453.7M836.3 459.6L836.3 468.1" stroke-width="1.22"/>
<path d="M749.4 630.7L767.3 628L767.3 637L749.4 639.6Z" stroke-width="1.34" fill="#fff"/>
<path d="M768.1 627.4L790.5 624L792 625.5L792 635.5L790 637.5L768.1 641Z" stroke-width="1.34" fill="#fff"/>
<ellipse cx="770" cy="634" rx="1.6" ry="6.2" stroke-width="1.22"/>
<path d="M775.4 626.4L775.4 639.6" stroke-width="1.1"/>
<path d="M779 625.8L779 639" stroke-width="1.1"/>
<ellipse cx="788.6" cy="631.2" rx="1.4" ry="6" stroke-width="1.22"/>
<path d="M792 623.9L847 614.5L855 617L855 625.5L800.5 635L792 632.6Z" stroke-width="1.46" fill="#fff"/>
<path d="M792 623.9L800.5 626.5L855 617M800.5 626.5L800.5 635" stroke-width="1.22"/>
<path d="M917.9 522.3L927 522.3L933.3 523.6L933.3 543.6L927 544.8L917.9 542.6Z" stroke-width="1.34" fill="#fff"/>
<path d="M927 522.3L927 544.8" stroke-width="1.22"/>
<ellipse cx="929.3" cy="527" rx="1.5" ry="1.5" stroke-width="1.1"/>
<ellipse cx="929.3" cy="537.6" rx="1.5" ry="1.5" stroke-width="1.1"/>
<path d="M732.4 640L732.4 497L734 496.4L740.9 492.8L754.5 490.2L765.4 492.8L765.4 616.2L754.5 614.5L736.6 618.8" stroke-width="1.59" fill="#fff"/>
<path d="M734 496.4L734 620" stroke-width="1.22"/>
<path d="M740.9 492.8L740.9 617.6" stroke-width="1.34"/>
<path d="M754.5 490.2L754.5 614.5" stroke-width="1.34"/>
<path d="M736.6 618.8L747.7 621.3L765.4 616.2" stroke-width="1.34"/>
<g transform="translate(719.6 478) rotate(11)">
<path d="M2 -5.4L30 -5.4Q34 0 30 5.4L2 5.4Z" stroke-width="1.71" fill="#fff"/>
<ellipse cx="30.4" cy="0" rx="2.4" ry="5.2" stroke-width="1.46"/>
<path d="M3 -2L30 -2" stroke-width="1.1"/>
<path d="M3 2.4L30 2.4" stroke-width="1.1"/>
<ellipse cx="0" cy="0" rx="5" ry="5" stroke-width="1.95" fill="#222"/>
<ellipse cx="0" cy="0" rx="3" ry="3" stroke-width="0.98" fill="#777"/>
<ellipse cx="0" cy="0" rx="1.5" ry="1.5" stroke-width="0.85" fill="#222"/>
</g>
<g transform="translate(894 450.3) rotate(11)">
<path d="M2 -5.4L30 -5.4Q34 0 30 5.4L2 5.4Z" stroke-width="1.71" fill="#fff"/>
<ellipse cx="30.4" cy="0" rx="2.4" ry="5.2" stroke-width="1.46"/>
<path d="M3 -2L30 -2" stroke-width="1.1"/>
<path d="M3 2.4L30 2.4" stroke-width="1.1"/>
<ellipse cx="0" cy="0" rx="5" ry="5" stroke-width="1.95" fill="#222"/>
<ellipse cx="0" cy="0" rx="3" ry="3" stroke-width="0.98" fill="#777"/>
<ellipse cx="0" cy="0" rx="1.5" ry="1.5" stroke-width="0.85" fill="#222"/>
</g>
<g transform="translate(719.6 623.4) rotate(11)">
<path d="M2 -5.4L30 -5.4Q34 0 30 5.4L2 5.4Z" stroke-width="1.71" fill="#fff"/>
<ellipse cx="30.4" cy="0" rx="2.4" ry="5.2" stroke-width="1.46"/>
<path d="M3 -2L30 -2" stroke-width="1.1"/>
<path d="M3 2.4L30 2.4" stroke-width="1.1"/>
<ellipse cx="0" cy="0" rx="5" ry="5" stroke-width="1.95" fill="#222"/>
<ellipse cx="0" cy="0" rx="3" ry="3" stroke-width="0.98" fill="#777"/>
<ellipse cx="0" cy="0" rx="1.5" ry="1.5" stroke-width="0.85" fill="#222"/>
</g>
<g transform="translate(893.8 595.9) rotate(11)">
<path d="M2 -5.4L30 -5.4Q34 0 30 5.4L2 5.4Z" stroke-width="1.71" fill="#fff"/>
<ellipse cx="30.4" cy="0" rx="2.4" ry="5.2" stroke-width="1.46"/>
<path d="M3 -2L30 -2" stroke-width="1.1"/>
<path d="M3 2.4L30 2.4" stroke-width="1.1"/>
<ellipse cx="0" cy="0" rx="5" ry="5" stroke-width="1.95" fill="#222"/>
<ellipse cx="0" cy="0" rx="3" ry="3" stroke-width="0.98" fill="#777"/>
<ellipse cx="0" cy="0" rx="1.5" ry="1.5" stroke-width="0.85" fill="#222"/>
</g>
<path d="M811.6 720.1L969.9 694.7L969.9 853.3L811.6 879.4Z" stroke-width="1.71" fill="#fff"/>
<g transform="translate(0 0)">
<path d="M700 283.6Q693.5 282.4 693.8 287L696.4 292.4L700 293.4" stroke-width="2.07"/>
<path d="M699.8 285Q696.4 286 697.4 289.4L699.8 291" stroke-width="1.22"/>
<path d="M706.9 247.5Q706.9 245.6 709 245.4L725 243.8Q727 243.8 727.4 246L728 251.6Q728 253.4 726 254L720.6 256Q717.6 257.6 717.6 260.4L718 262.6Q718.4 264 720 264.2L726.4 265.2Q728.3 265.8 728.3 268L728.3 288.6Q728.3 290.6 726.4 291.4L724 292.7L700.2 292.7" stroke-width="2.07" fill="#fff"/>
<path d="M706.9 247.5L706.3 269L709.2 277.9" stroke-width="1.83"/>
<path d="M711 259.6Q711.4 255.4 715.6 254.6L722.6 252.2L724.4 248.8L720.4 249.6L717.6 252.6" stroke-width="1.46"/>
<path d="M711 259.6L711 277.9M713.6 258.6L713.6 277.9" stroke-width="1.22"/>
<path d="M722.6 252.2L721 255.4" stroke-width="1.22"/>
<rect x="707.6" y="277.9" width="9.1" height="14.1" stroke-width="1.59" fill="#fff"/>
</g>
<g transform="translate(0 0) translate(0 636.2) scale(1 -1)">
<path d="M700 283.6Q693.5 282.4 693.8 287L696.4 292.4L700 293.4" stroke-width="2.07"/>
<path d="M699.8 285Q696.4 286 697.4 289.4L699.8 291" stroke-width="1.22"/>
<path d="M706.9 247.5Q706.9 245.6 709 245.4L725 243.8Q727 243.8 727.4 246L728 251.6Q728 253.4 726 254L720.6 256Q717.6 257.6 717.6 260.4L718 262.6Q718.4 264 720 264.2L726.4 265.2Q728.3 265.8 728.3 268L728.3 288.6Q728.3 290.6 726.4 291.4L724 292.7L700.2 292.7" stroke-width="2.07" fill="#fff"/>
<path d="M706.9 247.5L706.3 269L709.2 277.9" stroke-width="1.83"/>
<path d="M711 259.6Q711.4 255.4 715.6 254.6L722.6 252.2L724.4 248.8L720.4 249.6L717.6 252.6" stroke-width="1.46"/>
<path d="M711 259.6L711 277.9M713.6 258.6L713.6 277.9" stroke-width="1.22"/>
<path d="M722.6 252.2L721 255.4" stroke-width="1.22"/>
<rect x="707.6" y="277.9" width="9.1" height="14.1" stroke-width="1.59" fill="#fff"/>
</g>
<path d="M711 292L711 340M716 292L716 340" stroke-width="1.46"/>
<path d="M699.8 293L699.8 340M703.4 293L703.4 340M707.6 293L707.6 340" stroke-width="0.98"/>
<g transform="translate(0 540.5)">
<path d="M700 283.6Q693.5 282.4 693.8 287L696.4 292.4L700 293.4" stroke-width="2.07"/>
<path d="M699.8 285Q696.4 286 697.4 289.4L699.8 291" stroke-width="1.22"/>
<path d="M706.9 247.5Q706.9 245.6 709 245.4L725 243.8Q727 243.8 727.4 246L728 251.6Q728 253.4 726 254L720.6 256Q717.6 257.6 717.6 260.4L718 262.6Q718.4 264 720 264.2L726.4 265.2Q728.3 265.8 728.3 268L728.3 288.6Q728.3 290.6 726.4 291.4L724 292.7L700.2 292.7" stroke-width="2.07" fill="#fff"/>
<path d="M706.9 247.5L706.3 269L709.2 277.9" stroke-width="1.83"/>
<path d="M711 259.6Q711.4 255.4 715.6 254.6L722.6 252.2L724.4 248.8L720.4 249.6L717.6 252.6" stroke-width="1.46"/>
<path d="M711 259.6L711 277.9M713.6 258.6L713.6 277.9" stroke-width="1.22"/>
<path d="M722.6 252.2L721 255.4" stroke-width="1.22"/>
<rect x="707.6" y="277.9" width="9.1" height="14.1" stroke-width="1.59" fill="#fff"/>
</g>
<g transform="translate(0 540.5) translate(0 636.2) scale(1 -1)">
<path d="M700 283.6Q693.5 282.4 693.8 287L696.4 292.4L700 293.4" stroke-width="2.07"/>
<path d="M699.8 285Q696.4 286 697.4 289.4L699.8 291" stroke-width="1.22"/>
<path d="M706.9 247.5Q706.9 245.6 709 245.4L725 243.8Q727 243.8 727.4 246L728 251.6Q728 253.4 726 254L720.6 256Q717.6 257.6 717.6 260.4L718 262.6Q718.4 264 720 264.2L726.4 265.2Q728.3 265.8 728.3 268L728.3 288.6Q728.3 290.6 726.4 291.4L724 292.7L700.2 292.7" stroke-width="2.07" fill="#fff"/>
<path d="M706.9 247.5L706.3 269L709.2 277.9" stroke-width="1.83"/>
<path d="M711 259.6Q711.4 255.4 715.6 254.6L722.6 252.2L724.4 248.8L720.4 249.6L717.6 252.6" stroke-width="1.46"/>
<path d="M711 259.6L711 277.9M713.6 258.6L713.6 277.9" stroke-width="1.22"/>
<path d="M722.6 252.2L721 255.4" stroke-width="1.22"/>
<rect x="707.6" y="277.9" width="9.1" height="14.1" stroke-width="1.59" fill="#fff"/>
</g>
<path d="M711 832.5L711 880.5M716 832.5L716 880.5" stroke-width="1.46"/>
<path d="M699.8 833.5L699.8 880.5M703.4 833.5L703.4 880.5M707.6 833.5L707.6 880.5" stroke-width="0.98"/>
<path d="M750.3 256L758 255.4" stroke-width="1.22"/>
<path d="M762.7 252.6L779.6 255.6Q783.4 260 780 265.4L762.4 262.2Z" stroke-width="1.59" fill="#fff"/>
<ellipse cx="762.7" cy="257.4" rx="3.4" ry="4.8" stroke-width="1.59" fill="#fff"/>
<ellipse cx="781.4" cy="260.4" rx="2.5" ry="4.9" stroke-width="1.95"/>
<path d="M794.2 283.1L812 283.8A25.5 33 0 0 1 812 349.8L794.2 346.5Z" stroke-width="1.59" fill="#fff"/>
<ellipse cx="812" cy="316.8" rx="25.5" ry="33" stroke-width="1.71" fill="#fff"/>
<path d="M794.2 283.1A25 31.7 0 0 0 794.2 346.5L812 349.8A25.5 33 0 0 0 812 283.8Z" stroke-width="1.59" fill="#fff"/>
<ellipse cx="794.2" cy="314.8" rx="25" ry="31.7" stroke-width="1.71" fill="#fff"/>
<path d="M797 283.4A25 31.6 0 0 1 797 346.4" stroke-width="1.1"/>
<path d="M800 284A25 31.4 0 0 1 800 346" stroke-width="1.1"/>
<ellipse cx="794.6" cy="315" rx="22.4" ry="28.6" stroke-width="1.1"/>
<path d="M758.4 290.7L784 290.7L808 304L822.8 327.5Q824 333 819 335.2L792.6 335.7L770.7 322.9L758.4 312Z" stroke-width="1.83" fill="#fff"/>
<path d="M821.8 326.5L841.2 331.1M823.3 332.1L839.7 337.2" stroke-width="1.59"/>
<ellipse cx="750.2" cy="295.3" rx="4.6" ry="5.1" stroke-width="1.83" fill="#fff"/>
<path d="M746.4 296L754 294.6" stroke-width="1.46"/>
<path d="M755 291.4L763 292.4Q765 295 763 298.4L755 299" stroke-width="1.34" fill="#fff"/>
<path d="M807 322.4L815.6 324Q817.8 327 815.6 330.4L807 329.6" stroke-width="1.34" fill="#fff"/>
<ellipse cx="803.4" cy="326" rx="4.9" ry="5.6" stroke-width="1.83" fill="#fff"/>
<path d="M799.6 327L807.2 325" stroke-width="1.46"/>
<ellipse cx="803.4" cy="326" rx="3.4" ry="4" stroke-width="0.98"/>
<path d="M741 308L745.5 303L758 301.6L758 315L745.5 314Z" stroke-width="1.71" fill="#fff"/>
<path d="M740.6 308.2L743 306L743 311Z" stroke-width="1.71" fill="#222"/>
<rect x="780.9" y="302" width="10.2" height="18.9" stroke-width="1.59" fill="#fff"/>
<rect x="791.1" y="302" width="5.2" height="19.9" stroke-width="1.59" fill="#fff"/>
<path d="M796.3 307L798.8 309.6L796.3 312.4" stroke-width="1.95"/>
<path d="M783 322.4L791 325L795 321.6" stroke-width="2.2"/>
<path d="M770 298L780.9 300.4L780.9 320.6L770 317Z" stroke-width="1.59" fill="#fff"/>
<path d="M774.6 299L774.6 318.6" stroke-width="1.22"/>
<ellipse cx="766.6" cy="307.6" rx="8.2" ry="10.4" stroke-width="2.93" fill="#fff"/>
<ellipse cx="765" cy="307.6" rx="6" ry="8.4" stroke-width="2.2" fill="#fff"/>
<ellipse cx="762.4" cy="307.6" rx="3.6" ry="6.2" stroke-width="1.71" fill="#fff"/>
<ellipse cx="757.6" cy="307.8" rx="3" ry="6.4" stroke-width="1.46" fill="#fff"/>
<path d="M984 524L1001 522.4L1002.4 524L1002.4 560L1000 562.3L986 563Z" stroke-width="1.46" fill="#fff"/>
<path d="M986.5 524.6Q990.5 542 985.5 561" stroke-width="1.59"/>
<path d="M989.1 524.6Q993.1 542 988.1 561" stroke-width="1.59"/>
<path d="M991.7 524.6Q995.7 542 990.7 561" stroke-width="1.59"/>
<path d="M994.3 524.6Q998.3 542 993.3 561" stroke-width="1.59"/>
<path d="M996.9 524.6Q1000.9 542 995.9 561" stroke-width="1.59"/>
<path d="M999.5 524.6Q1003.5 542 998.5 561" stroke-width="1.59"/>
<path d="M996 524L1002 529L1002 556L997 561" stroke-width="1.34"/>
<path d="M974.6 556.5L980.6 567.4L1002.4 566.4L1002.4 561" stroke-width="1.71" fill="#fff"/>
<path d="M977 558L982 565.4L1000 564.6" stroke-width="1.22"/>
<path d="M984 560.4L992 563.6M986 559L994 562" stroke-width="1.95"/>
<path d="M971.7 532L971.7 525L979.4 525L979.4 532" stroke-width="1.59" fill="#fff"/>
<path d="M974.6 527L974.6 531" stroke-width="1.22"/>
<ellipse cx="974.3" cy="541.3" rx="9.7" ry="9.7" stroke-width="2.68" fill="#fff"/>
<ellipse cx="974" cy="541.6" rx="7.6" ry="7.6" stroke-width="1.71" fill="#2a2a2a"/>
<ellipse cx="973.6" cy="541.6" rx="4.6" ry="4.6" stroke-width="1.1" fill="#777"/>
<path d="M970.5 538L970.5 545.5M973.6 537L973.6 546M968.4 541.6L977.6 541.6" stroke-width="1.1" stroke="#111"/>
<path d="M976 548.4L979.6 545" stroke-width="1.95" stroke="#ddd"/>
<path d="M966 549Q970 556 977 555.4Q985 552.6 986.4 545" stroke-width="1.46"/>
<path d="M964 494.8L961.5 476.4Q961.4 471.6 966 471L974.8 470.2L979 469Q986.4 468.6 988 472.3L991.6 490.7L991.1 517.3L987.5 519.3L984 525.4L985.5 536.2L984.4 548L981 536L979.4 525L971.7 525L966.8 528.4L963.8 521.4L964.2 494.8Z" stroke-width="1.83" fill="#fff"/>
<path d="M964.5 492.7L974.8 470.2L987.5 490.2" stroke-width="1.46"/>
<path d="M984.5 471.2L988 490.7L987.5 517.8L984 524" stroke-width="1.34"/>
<g stroke="#111" stroke-width="1.1">
<path d="M382.3 47.4L444 299"/>
<path d="M475.7 47.4L494 160.5"/>
<path d="M608 47L537.5 422.5"/>
<path d="M815 40L799.5 285"/>
<path d="M106 394L395 424"/>
<path d="M106 526L327 502.5"/>
<path d="M106 608L376.9 582.3"/>
<path d="M106 660L322.5 673"/>
<path d="M106 721L317 744"/>
<path d="M106 865L215 840.5"/>
<path d="M106 911L332.5 848.5"/>
<path d="M1109.2 296.3L930 321.5"/>
<path d="M1109.2 406.7L883.9 442.6"/>
<path d="M1109.2 600L896.3 578.9"/>
<path d="M312.5 1111L492.5 789.5"/>
<path d="M359 1111L498.5 881"/>
<path d="M494 1111L520 1012"/>
<path d="M572.5 1111L578.5 1069.5"/>
<path d="M728.5 1111L633 818"/>
<path d="M772 1111L647 742"/>
<path d="M818 1111L649.5 634.5"/>
<path d="M887 1111L779.5 632"/>
</g>
<circle cx="1121.5" cy="483" r="34.7" fill="#66cc33" stroke="none"/>
<g stroke="#111" stroke-width="1.1">
<path d="M1109.2 485.7L544.3 577.1"/>
</g>
<text x="370" y="36" font-size="23.5" text-anchor="start" fill="#231f20" stroke="none" textLength="24" lengthAdjust="spacingAndGlyphs">12</text>
<text x="446.5" y="36" font-size="23.5" text-anchor="start" fill="#231f20" stroke="none" textLength="59" lengthAdjust="spacingAndGlyphs">17/18</text>
<text x="560.5" y="36" font-size="23.5" text-anchor="start" fill="#231f20" stroke="none" textLength="96" lengthAdjust="spacingAndGlyphs">10/25/26</text>
<text x="785" y="36" font-size="23.5" text-anchor="start" fill="#231f20" stroke="none" textLength="60" lengthAdjust="spacingAndGlyphs">13/14</text>
<text x="71" y="402" font-size="23.5" text-anchor="start" fill="#231f20" stroke="none" textLength="25.5" lengthAdjust="spacingAndGlyphs">19</text>
<text x="76.9" y="534.5" font-size="23.5" text-anchor="start" fill="#231f20" stroke="none" textLength="12.5" lengthAdjust="spacingAndGlyphs">6</text>
<text x="76.9" y="616.5" font-size="23.5" text-anchor="start" fill="#231f20" stroke="none" textLength="12.5" lengthAdjust="spacingAndGlyphs">9</text>
<text x="76.9" y="669" font-size="23.5" text-anchor="start" fill="#231f20" stroke="none" textLength="12.5" lengthAdjust="spacingAndGlyphs">7</text>
<text x="76.9" y="729.5" font-size="23.5" text-anchor="start" fill="#231f20" stroke="none" textLength="12.5" lengthAdjust="spacingAndGlyphs">8</text>
<text x="36" y="874" font-size="23.5" text-anchor="start" fill="#231f20" stroke="none" textLength="60.5" lengthAdjust="spacingAndGlyphs">15/20</text>
<text x="76.9" y="919.5" font-size="23.5" text-anchor="start" fill="#231f20" stroke="none" textLength="12.5" lengthAdjust="spacingAndGlyphs">4</text>
<text x="1117.6" y="303.8" font-size="23.5" text-anchor="start" fill="#231f20" stroke="none" textLength="11.5" lengthAdjust="spacingAndGlyphs">1</text>
<text x="1117.3" y="414.8" font-size="23.5" text-anchor="start" fill="#231f20" stroke="none" textLength="12.3" lengthAdjust="spacingAndGlyphs">3</text>
<text x="1117.6" y="493.8" font-size="23.5" text-anchor="start" fill="#231f20" stroke="none" textLength="12" lengthAdjust="spacingAndGlyphs">5</text>
<text x="1117.3" y="608.1" font-size="23.5" text-anchor="start" fill="#231f20" stroke="none" textLength="12.3" lengthAdjust="spacingAndGlyphs">2</text>
<text x="299" y="1142" font-size="23.5" text-anchor="start" fill="#231f20" stroke="none" textLength="24" lengthAdjust="spacingAndGlyphs">21</text>
<text x="346" y="1142" font-size="23.5" text-anchor="start" fill="#231f20" stroke="none" textLength="25" lengthAdjust="spacingAndGlyphs">27</text>
<text x="481" y="1142" font-size="23.5" text-anchor="start" fill="#231f20" stroke="none" textLength="25" lengthAdjust="spacingAndGlyphs">24</text>
<text x="561" y="1142" font-size="23.5" text-anchor="start" fill="#231f20" stroke="none" textLength="25" lengthAdjust="spacingAndGlyphs">16</text>
<text x="716" y="1142" font-size="23.5" text-anchor="start" fill="#231f20" stroke="none" textLength="25" lengthAdjust="spacingAndGlyphs">23</text>
<text x="761" y="1142" font-size="23.5" text-anchor="start" fill="#231f20" stroke="none" textLength="23" lengthAdjust="spacingAndGlyphs">11</text>
<text x="807" y="1142" font-size="23.5" text-anchor="start" fill="#231f20" stroke="none" textLength="23" lengthAdjust="spacingAndGlyphs">11</text>
<text x="875" y="1142" font-size="23.5" text-anchor="start" fill="#231f20" stroke="none" textLength="26" lengthAdjust="spacingAndGlyphs">22</text>
<text x="218.6" y="1042.5" font-size="13.7" text-anchor="start" fill="#3a3a3a" stroke="none" textLength="55" lengthAdjust="spacingAndGlyphs">P_04348</text>
</svg>
</body></html>
